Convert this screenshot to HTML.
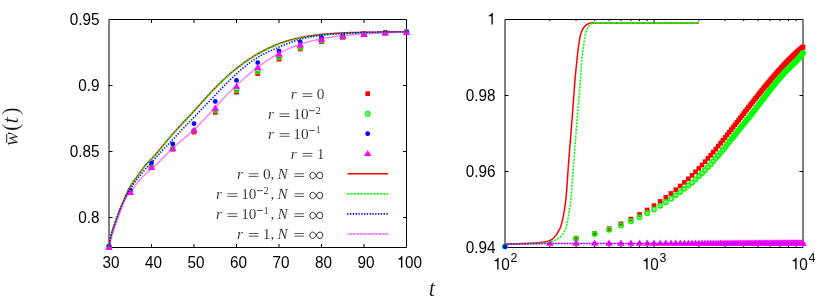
<!DOCTYPE html>
<html><head><meta charset="utf-8"><title>plot</title>
<style>html,body{margin:0;padding:0;background:#fff}svg{display:block;will-change:transform}</style>
</head><body>
<svg width="830" height="297" viewBox="0 0 830 297">
<g id="frames">
<path d="M109 19.5 H406.5 V247.5 H109 Z" fill="none" stroke="#000" stroke-width="1"/>
<path d="M505 19.5 H803 V247.5 H505 Z" fill="none" stroke="#000" stroke-width="1"/>
<path d="M151.5 247.5 v-3.5 M151.5 19.5 v3.5 M194 247.5 v-3.5 M194 19.5 v3.5 M236.5 247.5 v-3.5 M236.5 19.5 v3.5 M279 247.5 v-3.5 M279 19.5 v3.5 M321.5 247.5 v-3.5 M321.5 19.5 v3.5 M364 247.5 v-3.5 M364 19.5 v3.5 M109 85.5 h3.5 M406.5 85.5 h-3.5 M109 151.5 h3.5 M406.5 151.5 h-3.5 M109 217.5 h3.5 M406.5 217.5 h-3.5 M505 95.5 h3.5 M803 95.5 h-3.5 M505 171.5 h3.5 M803 171.5 h-3.5 M654 247.5 v-3.5 M654 19.5 v3.5 M549.85 247.5 v-1.6 M549.85 19.5 v1.6 M576.09 247.5 v-1.6 M576.09 19.5 v1.6 M594.71 247.5 v-1.6 M594.71 19.5 v1.6 M609.15 247.5 v-1.6 M609.15 19.5 v1.6 M620.94 247.5 v-1.6 M620.94 19.5 v1.6 M630.92 247.5 v-1.6 M630.92 19.5 v1.6 M639.56 247.5 v-1.6 M639.56 19.5 v1.6 M647.18 247.5 v-1.6 M647.18 19.5 v1.6 M698.85 247.5 v-1.6 M698.85 19.5 v1.6 M725.09 247.5 v-1.6 M725.09 19.5 v1.6 M743.71 247.5 v-1.6 M743.71 19.5 v1.6 M758.15 247.5 v-1.6 M758.15 19.5 v1.6 M769.94 247.5 v-1.6 M769.94 19.5 v1.6 M779.92 247.5 v-1.6 M779.92 19.5 v1.6 M788.56 247.5 v-1.6 M788.56 19.5 v1.6 M796.18 247.5 v-1.6 M796.18 19.5 v1.6" fill="none" stroke="#000" stroke-width="1"/>
</g>
<g font-family="Liberation Sans, sans-serif" font-size="15.3" fill="#000">
<text transform="translate(110.95 267.8) scale(1 1.08)" text-anchor="middle">30</text>
<text transform="translate(153.45 267.8) scale(1 1.08)" text-anchor="middle">40</text>
<text transform="translate(195.95 267.8) scale(1 1.08)" text-anchor="middle">50</text>
<text transform="translate(238.45 267.8) scale(1 1.08)" text-anchor="middle">60</text>
<text transform="translate(280.95 267.8) scale(1 1.08)" text-anchor="middle">70</text>
<text transform="translate(323.45 267.8) scale(1 1.08)" text-anchor="middle">80</text>
<text transform="translate(365.95 267.8) scale(1 1.08)" text-anchor="middle">90</text>
<path transform="translate(396.44 267.8) scale(0.01530 -0.01652)" d="M385 0 L297 0 L297 505 L125 505 L125 566 C212 570 292 598 324 709 L385 709 Z"/>
<text transform="translate(404.95 267.8) scale(1 1.08)">00</text>
<text transform="translate(99.5 24.55) scale(1 1.08)" text-anchor="end">0.95</text>
<text transform="translate(99.5 90.55) scale(1 1.08)" text-anchor="end">0.9</text>
<text transform="translate(99.5 156.55) scale(1 1.08)" text-anchor="end">0.85</text>
<text transform="translate(99.5 222.55) scale(1 1.08)" text-anchor="end">0.8</text>
<path transform="translate(486.89 24.55) scale(0.01530 -0.01652)" d="M385 0 L297 0 L297 505 L125 505 L125 566 C212 570 292 598 324 709 L385 709 Z"/>
<text transform="translate(495.4 100.55) scale(1 1.08)" text-anchor="end">0.98</text>
<text transform="translate(495.4 176.55) scale(1 1.08)" text-anchor="end">0.96</text>
<text transform="translate(495.4 252.55) scale(1 1.08)" text-anchor="end">0.94</text>
<path transform="translate(492.7 269.5) scale(0.01530 -0.01652)" d="M385 0 L297 0 L297 505 L125 505 L125 566 C212 570 292 598 324 709 L385 709 Z"/>
<text transform="translate(501.21 269.5) scale(1 1.08)">0<tspan font-size="12.4" dy="-6.7" dx="0.9">2</tspan></text>
<path transform="translate(641.7 269.5) scale(0.01530 -0.01652)" d="M385 0 L297 0 L297 505 L125 505 L125 566 C212 570 292 598 324 709 L385 709 Z"/>
<text transform="translate(650.21 269.5) scale(1 1.08)">0<tspan font-size="12.4" dy="-6.7" dx="0.9">3</tspan></text>
<path transform="translate(790.7 269.5) scale(0.01530 -0.01652)" d="M385 0 L297 0 L297 505 L125 505 L125 566 C212 570 292 598 324 709 L385 709 Z"/>
<text transform="translate(799.21 269.5) scale(1 1.08)">0<tspan font-size="12.4" dy="-6.7" dx="0.9">4</tspan></text>
</g>
<g font-family="Liberation Serif, serif" fill="#111" stroke="#fff" stroke-width="0.2">
<text x="428.7" y="295.5" font-size="23" font-style="italic">t</text>
<g transform="translate(18.3,145.2) rotate(-90)"><text x="-0.5" y="0" font-size="20.6" font-style="italic">w</text><text x="14.3" y="0" font-size="22.8">(</text><text x="21.8" y="0" font-size="23" font-style="italic">t</text><text x="30.1" y="0" font-size="22.8">)</text><path d="M2.4 -11.6 H11.6" stroke="#000" stroke-width="0.85" fill="none"/></g>
</g>
<g id="leftpts">
<rect x="106.65" y="244.25" width="4.7" height="4.7" fill="#ff0000"/>
<rect x="127.9" y="189.05" width="4.7" height="4.7" fill="#ff0000"/>
<rect x="149.15" y="164.85" width="4.7" height="4.7" fill="#ff0000"/>
<rect x="170.4" y="146.85" width="4.7" height="4.7" fill="#ff0000"/>
<rect x="191.65" y="129.75" width="4.7" height="4.7" fill="#ff0000"/>
<rect x="212.9" y="109.95" width="4.7" height="4.7" fill="#ff0000"/>
<rect x="234.15" y="89.85" width="4.7" height="4.7" fill="#ff0000"/>
<rect x="255.4" y="71.25" width="4.7" height="4.7" fill="#ff0000"/>
<rect x="276.65" y="56.85" width="4.7" height="4.7" fill="#ff0000"/>
<rect x="297.9" y="46.65" width="4.7" height="4.7" fill="#ff0000"/>
<rect x="319.15" y="39.25" width="4.7" height="4.7" fill="#ff0000"/>
<rect x="340.4" y="35.25" width="4.7" height="4.7" fill="#ff0000"/>
<rect x="361.65" y="31.95" width="4.7" height="4.7" fill="#ff0000"/>
<rect x="382.9" y="30.35" width="4.7" height="4.7" fill="#ff0000"/>
<rect x="404.15" y="29.65" width="4.7" height="4.7" fill="#ff0000"/>
<circle cx="109" cy="246.6" r="2.15" fill="none" stroke="#00ff00" stroke-width="1.6"/><circle cx="109" cy="246.6" r="0.65" fill="#00ff00"/>
<circle cx="130.25" cy="191.2" r="2.15" fill="none" stroke="#00ff00" stroke-width="1.6"/><circle cx="130.25" cy="191.2" r="0.65" fill="#00ff00"/>
<circle cx="151.5" cy="166.8" r="2.15" fill="none" stroke="#00ff00" stroke-width="1.6"/><circle cx="151.5" cy="166.8" r="0.65" fill="#00ff00"/>
<circle cx="172.75" cy="148.6" r="2.15" fill="none" stroke="#00ff00" stroke-width="1.6"/><circle cx="172.75" cy="148.6" r="0.65" fill="#00ff00"/>
<circle cx="194" cy="130.6" r="2.15" fill="none" stroke="#00ff00" stroke-width="1.6"/><circle cx="194" cy="130.6" r="0.65" fill="#00ff00"/>
<circle cx="215.25" cy="110.2" r="2.15" fill="none" stroke="#00ff00" stroke-width="1.6"/><circle cx="215.25" cy="110.2" r="0.65" fill="#00ff00"/>
<circle cx="236.5" cy="90.1" r="2.15" fill="none" stroke="#00ff00" stroke-width="1.6"/><circle cx="236.5" cy="90.1" r="0.65" fill="#00ff00"/>
<circle cx="257.75" cy="71.4" r="2.15" fill="none" stroke="#00ff00" stroke-width="1.6"/><circle cx="257.75" cy="71.4" r="0.65" fill="#00ff00"/>
<circle cx="279" cy="57.2" r="2.15" fill="none" stroke="#00ff00" stroke-width="1.6"/><circle cx="279" cy="57.2" r="0.65" fill="#00ff00"/>
<circle cx="300.25" cy="47.4" r="2.15" fill="none" stroke="#00ff00" stroke-width="1.6"/><circle cx="300.25" cy="47.4" r="0.65" fill="#00ff00"/>
<circle cx="321.5" cy="40.3" r="2.15" fill="none" stroke="#00ff00" stroke-width="1.6"/><circle cx="321.5" cy="40.3" r="0.65" fill="#00ff00"/>
<circle cx="342.75" cy="36.9" r="2.15" fill="none" stroke="#00ff00" stroke-width="1.6"/><circle cx="342.75" cy="36.9" r="0.65" fill="#00ff00"/>
<circle cx="364" cy="34.1" r="2.15" fill="none" stroke="#00ff00" stroke-width="1.6"/><circle cx="364" cy="34.1" r="0.65" fill="#00ff00"/>
<circle cx="385.25" cy="32.6" r="2.15" fill="none" stroke="#00ff00" stroke-width="1.6"/><circle cx="385.25" cy="32.6" r="0.65" fill="#00ff00"/>
<circle cx="406.5" cy="32" r="2.15" fill="none" stroke="#00ff00" stroke-width="1.6"/><circle cx="406.5" cy="32" r="0.65" fill="#00ff00"/>
<circle cx="109" cy="246.5" r="2.4" fill="#0000ff"/>
<circle cx="130.25" cy="190" r="2.4" fill="#0000ff"/>
<circle cx="151.5" cy="162.8" r="2.4" fill="#0000ff"/>
<circle cx="172.75" cy="144" r="2.4" fill="#0000ff"/>
<circle cx="194" cy="123.7" r="2.4" fill="#0000ff"/>
<circle cx="215.25" cy="101.4" r="2.4" fill="#0000ff"/>
<circle cx="236.5" cy="80.4" r="2.4" fill="#0000ff"/>
<circle cx="257.75" cy="62.6" r="2.4" fill="#0000ff"/>
<circle cx="279" cy="51" r="2.4" fill="#0000ff"/>
<circle cx="300.25" cy="42" r="2.4" fill="#0000ff"/>
<circle cx="321.5" cy="37.3" r="2.4" fill="#0000ff"/>
<circle cx="342.75" cy="34.9" r="2.4" fill="#0000ff"/>
<circle cx="364" cy="33.7" r="2.4" fill="#0000ff"/>
<circle cx="385.25" cy="32.4" r="2.4" fill="#0000ff"/>
<circle cx="406.5" cy="32" r="2.4" fill="#0000ff"/>
<path d="M109 244 L105.25 250.05 L112.75 250.05 Z" fill="#ff00ff"/>
<path d="M130.25 188.9 L126.5 194.95 L134 194.95 Z" fill="#ff00ff"/>
<path d="M151.5 164 L147.75 170.05 L155.25 170.05 Z" fill="#ff00ff"/>
<path d="M172.75 145.2 L169 151.25 L176.5 151.25 Z" fill="#ff00ff"/>
<path d="M194 126.8 L190.25 132.85 L197.75 132.85 Z" fill="#ff00ff"/>
<path d="M215.25 104.6 L211.5 110.65 L219 110.65 Z" fill="#ff00ff"/>
<path d="M236.5 82.7 L232.75 88.75 L240.25 88.75 Z" fill="#ff00ff"/>
<path d="M257.75 63.9 L254 69.95 L261.5 69.95 Z" fill="#ff00ff"/>
<path d="M279 50.6 L275.25 56.65 L282.75 56.65 Z" fill="#ff00ff"/>
<path d="M300.25 41.5 L296.5 47.55 L304 47.55 Z" fill="#ff00ff"/>
<path d="M321.5 35.9 L317.75 41.95 L325.25 41.95 Z" fill="#ff00ff"/>
<path d="M342.75 32.9 L339 38.95 L346.5 38.95 Z" fill="#ff00ff"/>
<path d="M364 30.9 L360.25 36.95 L367.75 36.95 Z" fill="#ff00ff"/>
<path d="M385.25 29.6 L381.5 35.65 L389 35.65 Z" fill="#ff00ff"/>
<path d="M406.5 29 L402.75 35.05 L410.25 35.05 Z" fill="#ff00ff"/>
</g>
<g id="leftlines" fill="none" stroke-linejoin="round">
<path d="M109 246.79 L109.43 242.98 L109.86 240.41 L110.29 238.31 L110.71 236.48 L111.14 234.81 L111.57 233.26 L112 231.79 L112.43 230.39 L112.86 229.04 L113.29 227.73 L113.71 226.45 L114.14 225.2 L114.57 223.96 L115 222.75 L115.43 221.54 L115.86 220.35 L116.29 219.17 L116.71 218 L117.14 216.84 L117.57 215.68 L118 214.53 L118.43 213.39 L118.86 212.25 L119.29 211.12 L119.71 210 L120.14 208.9 L120.57 207.82 L121 206.76 L121.43 205.72 L121.86 204.7 L122.29 203.7 L122.71 202.72 L123.14 201.74 L123.57 200.76 L124 199.79 L124.43 198.81 L124.86 197.83 L125.29 196.85 L125.71 195.85 L126.14 194.85 L126.57 193.84 L127 192.85 L127.43 191.87 L127.86 190.92 L128.29 190.01 L128.71 189.13 L129.14 188.31 L129.57 187.52 L130 186.77 L130.43 186.05 L130.86 185.36 L131.29 184.7 L131.71 184.06 L132.14 183.43 L132.57 182.82 L133 182.22 L133.43 181.62 L133.86 181.03 L134.29 180.45 L134.71 179.86 L135.14 179.28 L135.57 178.68 L136 178.09 L136.43 177.49 L136.86 176.88 L137.29 176.27 L137.71 175.66 L138.14 175.05 L138.57 174.45 L139 173.84 L139.43 173.23 L139.86 172.63 L140.29 172.02 L140.71 171.43 L141.14 170.83 L141.57 170.24 L142 169.66 L142.43 169.09 L142.86 168.52 L143.29 167.95 L143.71 167.4 L144.14 166.85 L144.57 166.31 L145 165.79 L145.43 165.27 L145.86 164.76 L146.29 164.26 L146.71 163.77 L147.14 163.29 L147.57 162.83 L148 162.37 L148.43 161.92 L148.86 161.47 L149.29 161.03 L149.71 160.59 L150.14 160.16 L150.57 159.72 L151 159.29 L151.43 158.85 L151.86 158.41 L152.29 157.96 L152.71 157.51 L153.14 157.06 L153.57 156.6 L154 156.13 L154.43 155.66 L154.86 155.18 L155.29 154.7 L155.71 154.21 L156.14 153.72 L156.57 153.23 L157 152.73 L157.43 152.23 L157.86 151.72 L158.29 151.22 L158.71 150.71 L159.14 150.2 L159.57 149.68 L160 149.17 L161.38 147.5 L162.75 145.83 L164.13 144.15 L165.51 142.48 L166.89 140.81 L168.26 139.15 L169.64 137.51 L171.02 135.89 L172.39 134.29 L173.77 132.73 L175.15 131.19 L176.53 129.67 L177.9 128.17 L179.28 126.68 L180.66 125.21 L182.03 123.75 L183.41 122.29 L184.79 120.84 L186.16 119.38 L187.54 117.93 L188.92 116.46 L190.3 115 L191.67 113.52 L193.05 112.03 L194.43 110.53 L195.8 109.02 L197.18 107.49 L198.56 105.96 L199.94 104.43 L201.31 102.89 L202.69 101.35 L204.07 99.82 L205.44 98.29 L206.82 96.77 L208.2 95.26 L209.58 93.77 L210.95 92.28 L212.33 90.82 L213.71 89.37 L215.08 87.94 L216.46 86.53 L217.84 85.14 L219.22 83.77 L220.59 82.43 L221.97 81.11 L223.35 79.8 L224.72 78.52 L226.1 77.26 L227.48 76.02 L228.85 74.8 L230.23 73.6 L231.61 72.42 L232.99 71.26 L234.36 70.12 L235.74 69 L237.12 67.9 L238.49 66.83 L239.87 65.77 L241.25 64.73 L242.63 63.71 L244 62.71 L245.38 61.73 L246.76 60.77 L248.13 59.83 L249.51 58.91 L250.89 58.01 L252.27 57.12 L253.64 56.26 L255.02 55.42 L256.4 54.59 L257.77 53.78 L259.15 53 L260.53 52.23 L261.91 51.48 L263.28 50.75 L264.66 50.03 L266.04 49.34 L267.41 48.66 L268.79 48.01 L270.17 47.37 L271.54 46.75 L272.92 46.14 L274.3 45.56 L275.68 44.99 L277.05 44.44 L278.43 43.91 L279.81 43.4 L281.18 42.91 L282.56 42.43 L283.94 41.97 L285.32 41.52 L286.69 41.09 L288.07 40.68 L289.45 40.28 L290.82 39.9 L292.2 39.53 L293.58 39.17 L294.96 38.83 L296.33 38.5 L297.71 38.19 L299.09 37.88 L300.46 37.59 L301.84 37.31 L303.22 37.04 L304.59 36.78 L305.97 36.53 L307.35 36.3 L308.73 36.07 L310.1 35.85 L311.48 35.64 L312.86 35.44 L314.23 35.25 L315.61 35.07 L316.99 34.9 L318.37 34.74 L319.74 34.58 L321.12 34.43 L322.5 34.29 L323.87 34.15 L325.25 34.02 L326.63 33.9 L328.01 33.78 L329.38 33.67 L330.76 33.57 L332.14 33.47 L333.51 33.38 L334.89 33.29 L336.27 33.21 L337.65 33.13 L339.02 33.06 L340.4 32.99 L341.78 32.92 L343.15 32.86 L344.53 32.81 L345.91 32.75 L347.28 32.7 L348.66 32.65 L350.04 32.61 L351.42 32.57 L352.79 32.53 L354.17 32.5 L355.55 32.46 L356.92 32.43 L358.3 32.4 L359.68 32.37 L361.06 32.35 L362.43 32.32 L363.81 32.3 L365.19 32.28 L366.56 32.26 L367.94 32.24 L369.32 32.22 L370.7 32.2 L372.07 32.18 L373.45 32.17 L374.83 32.15 L376.2 32.13 L377.58 32.11 L378.96 32.1 L380.34 32.08 L381.71 32.06 L383.09 32.04 L384.47 32.03 L385.84 32.01 L387.22 31.99 L388.6 31.96 L389.97 31.94 L391.35 31.92 L392.73 31.89 L394.11 31.87 L395.48 31.84 L396.86 31.81 L398.24 31.78 L399.61 31.74 L400.99 31.71 L402.37 31.67 L403.75 31.63 L405.12 31.59 L406.5 31.55" stroke="#ff0000" stroke-width="1.5"/>
<path d="M109 247.29 L109.43 243.48 L109.86 240.91 L110.29 238.81 L110.71 236.98 L111.14 235.31 L111.57 233.76 L112 232.29 L112.43 230.89 L112.86 229.54 L113.29 228.23 L113.71 226.95 L114.14 225.7 L114.57 224.46 L115 223.25 L115.43 222.04 L115.86 220.85 L116.29 219.67 L116.71 218.5 L117.14 217.34 L117.57 216.18 L118 215.03 L118.43 213.89 L118.86 212.75 L119.29 211.62 L119.71 210.5 L120.14 209.4 L120.57 208.32 L121 207.26 L121.43 206.22 L121.86 205.2 L122.29 204.2 L122.71 203.22 L123.14 202.24 L123.57 201.26 L124 200.29 L124.43 199.31 L124.86 198.33 L125.29 197.35 L125.71 196.35 L126.14 195.35 L126.57 194.34 L127 193.35 L127.43 192.37 L127.86 191.42 L128.29 190.51 L128.71 189.63 L129.14 188.81 L129.57 188.02 L130 187.27 L130.43 186.55 L130.86 185.86 L131.29 185.2 L131.71 184.56 L132.14 183.93 L132.57 183.32 L133 182.72 L133.43 182.12 L133.86 181.53 L134.29 180.95 L134.71 180.36 L135.14 179.78 L135.57 179.18 L136 178.59 L136.43 177.99 L136.86 177.38 L137.29 176.77 L137.71 176.16 L138.14 175.55 L138.57 174.95 L139 174.34 L139.43 173.73 L139.86 173.13 L140.29 172.52 L140.71 171.93 L141.14 171.33 L141.57 170.74 L142 170.16 L142.43 169.59 L142.86 169.02 L143.29 168.45 L143.71 167.9 L144.14 167.35 L144.57 166.81 L145 166.29 L145.43 165.77 L145.86 165.26 L146.29 164.76 L146.71 164.27 L147.14 163.79 L147.57 163.33 L148 162.87 L148.43 162.42 L148.86 161.97 L149.29 161.53 L149.71 161.09 L150.14 160.66 L150.57 160.22 L151 159.79 L151.43 159.35 L151.86 158.91 L152.29 158.46 L152.71 158.01 L153.14 157.56 L153.57 157.1 L154 156.63 L154.43 156.16 L154.86 155.68 L155.29 155.2 L155.71 154.71 L156.14 154.22 L156.57 153.73 L157 153.23 L157.43 152.73 L157.86 152.22 L158.29 151.72 L158.71 151.21 L159.14 150.7 L159.57 150.18 L160 149.67 L161.38 148 L162.75 146.33 L164.13 144.65 L165.51 142.98 L166.89 141.31 L168.26 139.65 L169.64 138.01 L171.02 136.39 L172.39 134.79 L173.77 133.23 L175.15 131.69 L176.53 130.17 L177.9 128.67 L179.28 127.18 L180.66 125.71 L182.03 124.25 L183.41 122.79 L184.79 121.34 L186.16 119.88 L187.54 118.43 L188.92 116.96 L190.3 115.5 L191.67 114.02 L193.05 112.53 L194.43 111.03 L195.8 109.52 L197.18 107.99 L198.56 106.46 L199.94 104.93 L201.31 103.39 L202.69 101.85 L204.07 100.32 L205.44 98.79 L206.82 97.27 L208.2 95.76 L209.58 94.27 L210.95 92.78 L212.33 91.32 L213.71 89.87 L215.08 88.44 L216.46 87.03 L217.84 85.64 L219.22 84.27 L220.59 82.93 L221.97 81.61 L223.35 80.3 L224.72 79.02 L226.1 77.76 L227.48 76.52 L228.85 75.3 L230.23 74.1 L231.61 72.92 L232.99 71.76 L234.36 70.62 L235.74 69.5 L237.12 68.4 L238.49 67.33 L239.87 66.27 L241.25 65.23 L242.63 64.21 L244 63.21 L245.38 62.23 L246.76 61.27 L248.13 60.33 L249.51 59.41 L250.89 58.51 L252.27 57.62 L253.64 56.76 L255.02 55.92 L256.4 55.09 L257.77 54.28 L259.15 53.5 L260.53 52.73 L261.91 51.98 L263.28 51.25 L264.66 50.53 L266.04 49.84 L267.41 49.16 L268.79 48.51 L270.17 47.87 L271.54 47.25 L272.92 46.64 L274.3 46.06 L275.68 45.49 L277.05 44.94 L278.43 44.41 L279.81 43.9 L281.18 43.41 L282.56 42.93 L283.94 42.47 L285.32 42.02 L286.69 41.59 L288.07 41.18 L289.45 40.78 L290.82 40.4 L292.2 40.03 L293.58 39.67 L294.96 39.33 L296.33 39 L297.71 38.69 L299.09 38.38 L300.46 38.09 L301.84 37.81 L303.22 37.54 L304.59 37.28 L305.97 37.03 L307.35 36.8 L308.73 36.57 L310.1 36.35 L311.48 36.14 L312.86 35.94 L314.23 35.75 L315.61 35.57 L316.99 35.4 L318.37 35.24 L319.74 35.08 L321.12 34.93 L322.5 34.79 L323.87 34.65 L325.25 34.52 L326.63 34.4 L328.01 34.28 L329.38 34.17 L330.76 34.07 L332.14 33.97 L333.51 33.88 L334.89 33.79 L336.27 33.71 L337.65 33.63 L339.02 33.56 L340.4 33.49 L341.78 33.42 L343.15 33.36 L344.53 33.31 L345.91 33.25 L347.28 33.2 L348.66 33.15 L350.04 33.11 L351.42 33.07 L352.79 33.03 L354.17 33 L355.55 32.96 L356.92 32.93 L358.3 32.9 L359.68 32.87 L361.06 32.85 L362.43 32.82 L363.81 32.8 L365.19 32.78 L366.56 32.76 L367.94 32.74 L369.32 32.72 L370.7 32.7 L372.07 32.68 L373.45 32.67 L374.83 32.65 L376.2 32.63 L377.58 32.61 L378.96 32.6 L380.34 32.58 L381.71 32.56 L383.09 32.54 L384.47 32.53 L385.84 32.51 L387.22 32.49 L388.6 32.46 L389.97 32.44 L391.35 32.42 L392.73 32.39 L394.11 32.37 L395.48 32.34 L396.86 32.31 L398.24 32.28 L399.61 32.24 L400.99 32.21 L402.37 32.17 L403.75 32.13 L405.12 32.09 L406.5 32.05" stroke="#00ff00" stroke-width="1.6" stroke-dasharray="2 1.3"/>
<path d="M109.2 246.8 L109.63 242.92 L110.05 240.35 L110.48 238.27 L110.91 236.46 L111.33 234.83 L111.76 233.3 L112.19 231.87 L112.62 230.49 L113.04 229.16 L113.47 227.86 L113.9 226.59 L114.32 225.34 L114.75 224.11 L115.18 222.88 L115.6 221.67 L116.03 220.47 L116.46 219.27 L116.88 218.09 L117.31 216.9 L117.74 215.72 L118.16 214.55 L118.59 213.37 L119.02 212.2 L119.45 211.05 L119.87 209.9 L120.3 208.78 L120.73 207.67 L121.15 206.6 L121.58 205.55 L122.01 204.53 L122.43 203.54 L122.86 202.58 L123.29 201.64 L123.71 200.73 L124.14 199.84 L124.57 198.97 L124.99 198.12 L125.42 197.28 L125.85 196.47 L126.28 195.67 L126.7 194.89 L127.13 194.12 L127.56 193.37 L127.98 192.63 L128.41 191.91 L128.84 191.2 L129.26 190.5 L129.69 189.81 L130.12 189.13 L130.54 188.46 L130.97 187.81 L131.4 187.16 L131.83 186.52 L132.25 185.89 L132.68 185.26 L133.11 184.65 L133.53 184.04 L133.96 183.44 L134.39 182.85 L134.81 182.26 L135.24 181.68 L135.67 181.11 L136.09 180.54 L136.52 179.98 L136.95 179.42 L137.37 178.87 L137.8 178.32 L138.23 177.78 L138.66 177.24 L139.08 176.71 L139.51 176.18 L139.94 175.65 L140.36 175.13 L140.79 174.61 L141.22 174.1 L141.64 173.58 L142.07 173.07 L142.5 172.57 L142.92 172.06 L143.35 171.56 L143.78 171.06 L144.21 170.57 L144.63 170.07 L145.06 169.58 L145.49 169.09 L145.91 168.6 L146.34 168.12 L146.77 167.63 L147.19 167.15 L147.62 166.67 L148.05 166.19 L148.47 165.71 L148.9 165.23 L149.33 164.76 L149.75 164.28 L150.18 163.81 L150.61 163.33 L151.04 162.86 L151.46 162.39 L151.89 161.92 L152.32 161.45 L152.74 160.98 L153.17 160.51 L153.6 160.04 L154.02 159.58 L154.45 159.11 L154.88 158.64 L155.3 158.18 L155.73 157.71 L156.16 157.25 L156.58 156.78 L157.01 156.32 L157.44 155.86 L157.87 155.39 L158.29 154.93 L158.72 154.47 L159.15 154.01 L159.57 153.55 L160 153.09 L161.38 151.61 L162.75 150.13 L164.13 148.66 L165.51 147.19 L166.89 145.72 L168.26 144.26 L169.64 142.8 L171.02 141.34 L172.39 139.88 L173.77 138.43 L175.15 136.98 L176.53 135.53 L177.9 134.08 L179.28 132.64 L180.66 131.19 L182.03 129.75 L183.41 128.31 L184.79 126.87 L186.16 125.43 L187.54 123.99 L188.92 122.55 L190.3 121.12 L191.67 119.68 L193.05 118.24 L194.43 116.81 L195.8 115.37 L197.18 113.94 L198.56 112.5 L199.94 111.07 L201.31 109.63 L202.69 108.2 L204.07 106.76 L205.44 105.33 L206.82 103.89 L208.2 102.46 L209.58 101.02 L210.95 99.59 L212.33 98.15 L213.71 96.71 L215.08 95.28 L216.46 93.84 L217.84 92.4 L219.22 90.97 L220.59 89.54 L221.97 88.11 L223.35 86.7 L224.72 85.29 L226.1 83.9 L227.48 82.51 L228.85 81.14 L230.23 79.78 L231.61 78.44 L232.99 77.12 L234.36 75.81 L235.74 74.53 L237.12 73.26 L238.49 72.02 L239.87 70.8 L241.25 69.6 L242.63 68.43 L244 67.28 L245.38 66.16 L246.76 65.06 L248.13 63.99 L249.51 62.95 L250.89 61.95 L252.27 60.97 L253.64 60.02 L255.02 59.1 L256.4 58.22 L257.77 57.37 L259.15 56.55 L260.53 55.77 L261.91 55.01 L263.28 54.28 L264.66 53.57 L266.04 52.89 L267.41 52.22 L268.79 51.57 L270.17 50.94 L271.54 50.32 L272.92 49.72 L274.3 49.12 L275.68 48.53 L277.05 47.95 L278.43 47.37 L279.81 46.79 L281.18 46.22 L282.56 45.65 L283.94 45.09 L285.32 44.53 L286.69 43.98 L288.07 43.44 L289.45 42.92 L290.82 42.4 L292.2 41.9 L293.58 41.41 L294.96 40.93 L296.33 40.48 L297.71 40.04 L299.09 39.62 L300.46 39.22 L301.84 38.84 L303.22 38.48 L304.59 38.14 L305.97 37.81 L307.35 37.51 L308.73 37.22 L310.1 36.95 L311.48 36.69 L312.86 36.45 L314.23 36.22 L315.61 36 L316.99 35.79 L318.37 35.6 L319.74 35.42 L321.12 35.25 L322.5 35.09 L323.87 34.93 L325.25 34.79 L326.63 34.65 L328.01 34.53 L329.38 34.4 L330.76 34.29 L332.14 34.18 L333.51 34.08 L334.89 33.98 L336.27 33.89 L337.65 33.8 L339.02 33.71 L340.4 33.63 L341.78 33.55 L343.15 33.47 L344.53 33.4 L345.91 33.32 L347.28 33.25 L348.66 33.18 L350.04 33.12 L351.42 33.05 L352.79 32.99 L354.17 32.93 L355.55 32.87 L356.92 32.81 L358.3 32.75 L359.68 32.7 L361.06 32.65 L362.43 32.6 L363.81 32.55 L365.19 32.5 L366.56 32.45 L367.94 32.41 L369.32 32.37 L370.7 32.33 L372.07 32.29 L373.45 32.25 L374.83 32.21 L376.2 32.18 L377.58 32.14 L378.96 32.11 L380.34 32.08 L381.71 32.05 L383.09 32.02 L384.47 31.99 L385.84 31.96 L387.22 31.94 L388.6 31.92 L389.97 31.89 L391.35 31.87 L392.73 31.85 L394.11 31.83 L395.48 31.81 L396.86 31.8 L398.24 31.78 L399.61 31.77 L400.99 31.75 L402.37 31.74 L403.75 31.73 L405.12 31.72 L406.5 31.71" stroke="#0000ff" stroke-width="1.6" stroke-dasharray="1.3 1.5"/>
<path d="M109 247 L109.43 245.85 L109.86 244.3 L110.29 242.67 L110.71 241.01 L111.14 239.37 L111.57 237.75 L112 236.16 L112.43 234.61 L112.86 233.09 L113.29 231.62 L113.71 230.19 L114.14 228.8 L114.57 227.45 L115 226.14 L115.43 224.88 L115.86 223.65 L116.29 222.45 L116.71 221.27 L117.14 220.11 L117.57 218.95 L118 217.81 L118.43 216.66 L118.86 215.52 L119.29 214.37 L119.71 213.22 L120.14 212.06 L120.57 210.91 L121 209.76 L121.43 208.63 L121.86 207.51 L122.29 206.43 L122.71 205.37 L123.14 204.33 L123.57 203.33 L124 202.37 L124.43 201.43 L124.86 200.53 L125.29 199.67 L125.71 198.84 L126.14 198.05 L126.57 197.3 L127 196.59 L127.43 195.91 L127.86 195.27 L128.29 194.67 L128.71 194.08 L129.14 193.53 L129.57 192.98 L130 192.45 L130.43 191.93 L130.86 191.41 L131.29 190.89 L131.71 190.37 L132.14 189.84 L132.57 189.3 L133 188.75 L133.43 188.19 L133.86 187.62 L134.29 187.04 L134.71 186.46 L135.14 185.88 L135.57 185.3 L136 184.72 L136.43 184.14 L136.86 183.57 L137.29 183.01 L137.71 182.45 L138.14 181.9 L138.57 181.37 L139 180.85 L139.43 180.34 L139.86 179.84 L140.29 179.36 L140.71 178.89 L141.14 178.43 L141.57 177.97 L142 177.53 L142.43 177.1 L142.86 176.67 L143.29 176.25 L143.71 175.84 L144.14 175.43 L144.57 175.03 L145 174.63 L145.43 174.24 L145.86 173.85 L146.29 173.47 L146.71 173.09 L147.14 172.71 L147.57 172.33 L148 171.96 L148.43 171.59 L148.86 171.21 L149.29 170.84 L149.71 170.47 L150.14 170.1 L150.57 169.73 L151 169.36 L151.43 168.99 L151.86 168.61 L152.29 168.24 L152.71 167.86 L153.14 167.48 L153.57 167.1 L154 166.72 L154.43 166.33 L154.86 165.94 L155.29 165.55 L155.71 165.15 L156.14 164.75 L156.57 164.34 L157 163.93 L157.43 163.52 L157.86 163.1 L158.29 162.68 L158.71 162.25 L159.14 161.82 L159.57 161.39 L160 160.95 L161.38 159.54 L162.75 158.11 L164.13 156.67 L165.51 155.24 L166.89 153.82 L168.26 152.42 L169.64 151.04 L171.02 149.69 L172.39 148.38 L173.77 147.11 L175.15 145.88 L176.53 144.68 L177.9 143.51 L179.28 142.35 L180.66 141.21 L182.03 140.07 L183.41 138.93 L184.79 137.78 L186.16 136.63 L187.54 135.46 L188.92 134.28 L190.3 133.07 L191.67 131.84 L193.05 130.57 L194.43 129.27 L195.8 127.94 L197.18 126.57 L198.56 125.18 L199.94 123.76 L201.31 122.32 L202.69 120.87 L204.07 119.4 L205.44 117.91 L206.82 116.42 L208.2 114.92 L209.58 113.42 L210.95 111.92 L212.33 110.41 L213.71 108.91 L215.08 107.42 L216.46 105.93 L217.84 104.45 L219.22 102.98 L220.59 101.51 L221.97 100.06 L223.35 98.62 L224.72 97.19 L226.1 95.77 L227.48 94.36 L228.85 92.96 L230.23 91.58 L231.61 90.21 L232.99 88.85 L234.36 87.51 L235.74 86.18 L237.12 84.86 L238.49 83.56 L239.87 82.28 L241.25 81.01 L242.63 79.76 L244 78.52 L245.38 77.3 L246.76 76.1 L248.13 74.91 L249.51 73.75 L250.89 72.6 L252.27 71.47 L253.64 70.35 L255.02 69.26 L256.4 68.18 L257.77 67.12 L259.15 66.08 L260.53 65.06 L261.91 64.06 L263.28 63.08 L264.66 62.12 L266.04 61.18 L267.41 60.26 L268.79 59.37 L270.17 58.49 L271.54 57.63 L272.92 56.79 L274.3 55.98 L275.68 55.18 L277.05 54.41 L278.43 53.65 L279.81 52.92 L281.18 52.22 L282.56 51.53 L283.94 50.86 L285.32 50.21 L286.69 49.58 L288.07 48.97 L289.45 48.38 L290.82 47.81 L292.2 47.25 L293.58 46.71 L294.96 46.19 L296.33 45.68 L297.71 45.19 L299.09 44.72 L300.46 44.26 L301.84 43.81 L303.22 43.38 L304.59 42.96 L305.97 42.56 L307.35 42.17 L308.73 41.79 L310.1 41.43 L311.48 41.07 L312.86 40.73 L314.23 40.4 L315.61 40.09 L316.99 39.78 L318.37 39.48 L319.74 39.19 L321.12 38.92 L322.5 38.65 L323.87 38.39 L325.25 38.15 L326.63 37.91 L328.01 37.67 L329.38 37.45 L330.76 37.24 L332.14 37.03 L333.51 36.83 L334.89 36.64 L336.27 36.46 L337.65 36.28 L339.02 36.11 L340.4 35.94 L341.78 35.78 L343.15 35.63 L344.53 35.48 L345.91 35.34 L347.28 35.21 L348.66 35.07 L350.04 34.95 L351.42 34.83 L352.79 34.71 L354.17 34.6 L355.55 34.49 L356.92 34.38 L358.3 34.28 L359.68 34.19 L361.06 34.09 L362.43 34 L363.81 33.91 L365.19 33.83 L366.56 33.75 L367.94 33.67 L369.32 33.59 L370.7 33.52 L372.07 33.44 L373.45 33.37 L374.83 33.3 L376.2 33.24 L377.58 33.17 L378.96 33.1 L380.34 33.04 L381.71 32.98 L383.09 32.92 L384.47 32.86 L385.84 32.8 L387.22 32.74 L388.6 32.68 L389.97 32.62 L391.35 32.56 L392.73 32.5 L394.11 32.44 L395.48 32.38 L396.86 32.32 L398.24 32.26 L399.61 32.2 L400.99 32.14 L402.37 32.07 L403.75 32.01 L405.12 31.95 L406.5 31.88" stroke="#ff00ff" stroke-width="1.45" stroke-opacity="0.5"/>
</g>
<g id="legend">
<rect x="365.35" y="91.35" width="4.7" height="4.7" fill="#ff0000"/>
<circle cx="367.7" cy="113.8" r="2.15" fill="none" stroke="#00ff00" stroke-width="1.6"/><circle cx="367.7" cy="113.8" r="0.65" fill="#00ff00"/>
<circle cx="367.7" cy="133.7" r="2.4" fill="#0000ff"/>
<path d="M367.7 149.9 L363.95 155.95 L371.45 155.95 Z" fill="#ff00ff"/>
<g fill="none">
<path d="M347.4 173.8 H388" stroke="#ff0000" stroke-width="1.5"/>
<path d="M347.2 193.9 H388.1" stroke="#00ff00" stroke-width="1.6" stroke-dasharray="2 1.3"/>
<path d="M347.2 213.9 H388.1" stroke="#0000ff" stroke-width="1.6" stroke-dasharray="1.3 1.5"/>
<path d="M347.2 233.9 H388.1" stroke="#ff00ff" stroke-width="1.5" stroke-opacity="0.3"/><path d="M347.2 233.9 H388.1" stroke="#ff00ff" stroke-width="1.5" stroke-dasharray="2.3 1.4" stroke-dashoffset="1.6" stroke-opacity="0.5"/>
</g>
<g font-family="Liberation Serif, serif" fill="#1a1a1a" stroke="#fff" stroke-width="0.12">
<text x="290.87" y="98.9" font-size="15.3" font-style="italic">r</text><path d="M302.6 93.75 H312.4 M302.6 96.4 H312.4" stroke="#1a1a1a" stroke-width="0.72" fill="none"/><text x="316.82" y="98.9" font-size="15.3">0</text>
<text x="268.07" y="119" font-size="15.3" font-style="italic">r</text><path d="M279.5 113.85 H289.5 M279.5 116.5 H289.5" stroke="#1a1a1a" stroke-width="0.72" fill="none"/><text x="293.25" y="119" font-size="15.3">10</text><path d="M309 110.7 H314.8" stroke="#1a1a1a" stroke-width="0.75" fill="none"/><text x="315.53" y="113.6" font-size="10.6">2</text>
<text x="268.07" y="138.8" font-size="15.3" font-style="italic">r</text><path d="M279.5 133.65 H289.5 M279.5 136.3 H289.5" stroke="#1a1a1a" stroke-width="0.72" fill="none"/><text x="293.25" y="138.8" font-size="15.3">10</text><path d="M309 130.5 H314.8" stroke="#1a1a1a" stroke-width="0.75" fill="none"/><text x="315.57" y="133.4" font-size="10.6">1</text>
<text x="290.87" y="158.6" font-size="15.3" font-style="italic">r</text><path d="M302.6 153.45 H312.4 M302.6 156.1 H312.4" stroke="#1a1a1a" stroke-width="0.72" fill="none"/><text x="316.65" y="158.6" font-size="15.3">1</text>
<text x="236.97" y="178.9" font-size="15.3" font-style="italic">r</text><path d="M248.7 173.75 H258.5 M248.7 176.4 H258.5" stroke="#1a1a1a" stroke-width="0.72" fill="none"/><text x="262.92" y="178.9" font-size="15.3">0</text><text x="270.62" y="178.9" font-size="15.3">,</text><text x="277.61" y="178.9" font-size="15.3" font-style="italic">N</text><path d="M294.4 173.75 H304.1 M294.4 176.4 H304.1" stroke="#1a1a1a" stroke-width="0.72" fill="none"/><path d="M316.3 175.5 C318.1 171.2 322.65 171.2 322.65 175.5 C322.65 179.8 318.1 179.8 316.3 175.5 C314.5 171.2 309.95 171.2 309.95 175.5 C309.95 179.8 314.5 179.8 316.3 175.5 Z" stroke="#1a1a1a" stroke-width="0.95" fill="none"/>
<text x="215.97" y="198.9" font-size="15.3" font-style="italic">r</text><path d="M227.4 193.75 H237.4 M227.4 196.4 H237.4" stroke="#1a1a1a" stroke-width="0.72" fill="none"/><text x="241.15" y="198.9" font-size="15.3">10</text><path d="M256.9 190.6 H262.7" stroke="#1a1a1a" stroke-width="0.75" fill="none"/><text x="263.43" y="193.5" font-size="10.6">2</text><text x="270.62" y="198.9" font-size="15.3">,</text><text x="277.61" y="198.9" font-size="15.3" font-style="italic">N</text><path d="M294.4 193.75 H304.1 M294.4 196.4 H304.1" stroke="#1a1a1a" stroke-width="0.72" fill="none"/><path d="M316.3 195.5 C318.1 191.2 322.65 191.2 322.65 195.5 C322.65 199.8 318.1 199.8 316.3 195.5 C314.5 191.2 309.95 191.2 309.95 195.5 C309.95 199.8 314.5 199.8 316.3 195.5 Z" stroke="#1a1a1a" stroke-width="0.95" fill="none"/>
<text x="215.97" y="218.9" font-size="15.3" font-style="italic">r</text><path d="M227.4 213.75 H237.4 M227.4 216.4 H237.4" stroke="#1a1a1a" stroke-width="0.72" fill="none"/><text x="241.15" y="218.9" font-size="15.3">10</text><path d="M256.9 210.6 H262.7" stroke="#1a1a1a" stroke-width="0.75" fill="none"/><text x="263.47" y="213.5" font-size="10.6">1</text><text x="270.62" y="218.9" font-size="15.3">,</text><text x="277.61" y="218.9" font-size="15.3" font-style="italic">N</text><path d="M294.4 213.75 H304.1 M294.4 216.4 H304.1" stroke="#1a1a1a" stroke-width="0.72" fill="none"/><path d="M316.3 215.5 C318.1 211.2 322.65 211.2 322.65 215.5 C322.65 219.8 318.1 219.8 316.3 215.5 C314.5 211.2 309.95 211.2 309.95 215.5 C309.95 219.8 314.5 219.8 316.3 215.5 Z" stroke="#1a1a1a" stroke-width="0.95" fill="none"/>
<text x="236.97" y="238.7" font-size="15.3" font-style="italic">r</text><path d="M248.7 233.55 H258.5 M248.7 236.2 H258.5" stroke="#1a1a1a" stroke-width="0.72" fill="none"/><text x="262.75" y="238.7" font-size="15.3">1</text><text x="270.62" y="238.7" font-size="15.3">,</text><text x="277.61" y="238.7" font-size="15.3" font-style="italic">N</text><path d="M294.4 233.55 H304.1 M294.4 236.2 H304.1" stroke="#1a1a1a" stroke-width="0.72" fill="none"/><path d="M316.3 235.3 C318.1 231 322.65 231 322.65 235.3 C322.65 239.6 318.1 239.6 316.3 235.3 C314.5 231 309.95 231 309.95 235.3 C309.95 239.6 314.5 239.6 316.3 235.3 Z" stroke="#1a1a1a" stroke-width="0.95" fill="none"/>
</g></g>
<g id="rightpts">
<rect x="573.74" y="235.98" width="4.7" height="4.7" fill="#ff0000"/>
<rect x="592.36" y="231.21" width="4.7" height="4.7" fill="#ff0000"/>
<rect x="606.8" y="226.35" width="4.7" height="4.7" fill="#ff0000"/>
<rect x="618.59" y="221.52" width="4.7" height="4.7" fill="#ff0000"/>
<rect x="628.57" y="216.78" width="4.7" height="4.7" fill="#ff0000"/>
<rect x="637.21" y="212.14" width="4.7" height="4.7" fill="#ff0000"/>
<rect x="644.83" y="207.64" width="4.7" height="4.7" fill="#ff0000"/>
<rect x="651.65" y="203.3" width="4.7" height="4.7" fill="#ff0000"/>
<rect x="657.82" y="199.1" width="4.7" height="4.7" fill="#ff0000"/>
<rect x="663.45" y="195.04" width="4.7" height="4.7" fill="#ff0000"/>
<rect x="668.63" y="191.13" width="4.7" height="4.7" fill="#ff0000"/>
<rect x="673.42" y="187.34" width="4.7" height="4.7" fill="#ff0000"/>
<rect x="677.89" y="183.65" width="4.7" height="4.7" fill="#ff0000"/>
<rect x="682.06" y="180.04" width="4.7" height="4.7" fill="#ff0000"/>
<rect x="685.99" y="176.49" width="4.7" height="4.7" fill="#ff0000"/>
<rect x="689.69" y="172.98" width="4.7" height="4.7" fill="#ff0000"/>
<rect x="693.18" y="169.51" width="4.7" height="4.7" fill="#ff0000"/>
<rect x="696.5" y="166.08" width="4.7" height="4.7" fill="#ff0000"/>
<rect x="699.66" y="162.69" width="4.7" height="4.7" fill="#ff0000"/>
<rect x="702.67" y="159.36" width="4.7" height="4.7" fill="#ff0000"/>
<rect x="705.55" y="156.09" width="4.7" height="4.7" fill="#ff0000"/>
<rect x="708.3" y="152.88" width="4.7" height="4.7" fill="#ff0000"/>
<rect x="710.94" y="149.75" width="4.7" height="4.7" fill="#ff0000"/>
<rect x="713.48" y="146.68" width="4.7" height="4.7" fill="#ff0000"/>
<rect x="715.92" y="143.7" width="4.7" height="4.7" fill="#ff0000"/>
<rect x="718.28" y="140.78" width="4.7" height="4.7" fill="#ff0000"/>
<rect x="720.55" y="137.94" width="4.7" height="4.7" fill="#ff0000"/>
<rect x="722.74" y="135.17" width="4.7" height="4.7" fill="#ff0000"/>
<rect x="724.86" y="132.47" width="4.7" height="4.7" fill="#ff0000"/>
<rect x="726.92" y="129.84" width="4.7" height="4.7" fill="#ff0000"/>
<rect x="728.91" y="127.28" width="4.7" height="4.7" fill="#ff0000"/>
<rect x="730.84" y="124.79" width="4.7" height="4.7" fill="#ff0000"/>
<rect x="732.72" y="122.37" width="4.7" height="4.7" fill="#ff0000"/>
<rect x="734.54" y="120" width="4.7" height="4.7" fill="#ff0000"/>
<rect x="736.31" y="117.71" width="4.7" height="4.7" fill="#ff0000"/>
<rect x="738.04" y="115.47" width="4.7" height="4.7" fill="#ff0000"/>
<rect x="739.72" y="113.29" width="4.7" height="4.7" fill="#ff0000"/>
<rect x="741.36" y="111.17" width="4.7" height="4.7" fill="#ff0000"/>
<rect x="742.95" y="109.1" width="4.7" height="4.7" fill="#ff0000"/>
<rect x="744.51" y="107.09" width="4.7" height="4.7" fill="#ff0000"/>
<rect x="746.04" y="105.13" width="4.7" height="4.7" fill="#ff0000"/>
<rect x="747.52" y="103.22" width="4.7" height="4.7" fill="#ff0000"/>
<rect x="748.98" y="101.36" width="4.7" height="4.7" fill="#ff0000"/>
<rect x="750.4" y="99.54" width="4.7" height="4.7" fill="#ff0000"/>
<rect x="751.79" y="97.78" width="4.7" height="4.7" fill="#ff0000"/>
<rect x="753.15" y="96.05" width="4.7" height="4.7" fill="#ff0000"/>
<rect x="754.49" y="94.37" width="4.7" height="4.7" fill="#ff0000"/>
<rect x="755.8" y="92.73" width="4.7" height="4.7" fill="#ff0000"/>
<rect x="757.08" y="91.13" width="4.7" height="4.7" fill="#ff0000"/>
<rect x="758.33" y="89.57" width="4.7" height="4.7" fill="#ff0000"/>
<rect x="759.57" y="88.04" width="4.7" height="4.7" fill="#ff0000"/>
<rect x="760.78" y="86.56" width="4.7" height="4.7" fill="#ff0000"/>
<rect x="761.96" y="85.1" width="4.7" height="4.7" fill="#ff0000"/>
<rect x="763.13" y="83.69" width="4.7" height="4.7" fill="#ff0000"/>
<rect x="764.28" y="82.3" width="4.7" height="4.7" fill="#ff0000"/>
<rect x="765.4" y="80.95" width="4.7" height="4.7" fill="#ff0000"/>
<rect x="766.51" y="79.63" width="4.7" height="4.7" fill="#ff0000"/>
<rect x="767.59" y="78.34" width="4.7" height="4.7" fill="#ff0000"/>
<rect x="768.66" y="77.08" width="4.7" height="4.7" fill="#ff0000"/>
<rect x="769.72" y="75.85" width="4.7" height="4.7" fill="#ff0000"/>
<rect x="770.75" y="74.65" width="4.7" height="4.7" fill="#ff0000"/>
<rect x="771.77" y="73.47" width="4.7" height="4.7" fill="#ff0000"/>
<rect x="772.77" y="72.32" width="4.7" height="4.7" fill="#ff0000"/>
<rect x="773.76" y="71.2" width="4.7" height="4.7" fill="#ff0000"/>
<rect x="774.74" y="70.1" width="4.7" height="4.7" fill="#ff0000"/>
<rect x="775.69" y="69.03" width="4.7" height="4.7" fill="#ff0000"/>
<rect x="776.64" y="67.98" width="4.7" height="4.7" fill="#ff0000"/>
<rect x="777.57" y="66.95" width="4.7" height="4.7" fill="#ff0000"/>
<rect x="778.49" y="65.95" width="4.7" height="4.7" fill="#ff0000"/>
<rect x="779.39" y="64.97" width="4.7" height="4.7" fill="#ff0000"/>
<rect x="780.29" y="64.01" width="4.7" height="4.7" fill="#ff0000"/>
<rect x="781.17" y="63.07" width="4.7" height="4.7" fill="#ff0000"/>
<rect x="782.03" y="62.15" width="4.7" height="4.7" fill="#ff0000"/>
<rect x="782.89" y="61.25" width="4.7" height="4.7" fill="#ff0000"/>
<rect x="783.74" y="60.37" width="4.7" height="4.7" fill="#ff0000"/>
<rect x="784.57" y="59.51" width="4.7" height="4.7" fill="#ff0000"/>
<rect x="785.4" y="58.67" width="4.7" height="4.7" fill="#ff0000"/>
<rect x="786.21" y="57.85" width="4.7" height="4.7" fill="#ff0000"/>
<rect x="787.01" y="57.04" width="4.7" height="4.7" fill="#ff0000"/>
<rect x="787.81" y="56.26" width="4.7" height="4.7" fill="#ff0000"/>
<rect x="788.59" y="55.49" width="4.7" height="4.7" fill="#ff0000"/>
<rect x="789.37" y="54.73" width="4.7" height="4.7" fill="#ff0000"/>
<rect x="790.13" y="53.99" width="4.7" height="4.7" fill="#ff0000"/>
<rect x="790.89" y="53.27" width="4.7" height="4.7" fill="#ff0000"/>
<rect x="791.64" y="52.56" width="4.7" height="4.7" fill="#ff0000"/>
<rect x="792.38" y="51.87" width="4.7" height="4.7" fill="#ff0000"/>
<rect x="793.11" y="51.19" width="4.7" height="4.7" fill="#ff0000"/>
<rect x="793.83" y="50.53" width="4.7" height="4.7" fill="#ff0000"/>
<rect x="794.55" y="49.88" width="4.7" height="4.7" fill="#ff0000"/>
<rect x="795.25" y="49.25" width="4.7" height="4.7" fill="#ff0000"/>
<rect x="795.95" y="48.63" width="4.7" height="4.7" fill="#ff0000"/>
<rect x="796.65" y="48.02" width="4.7" height="4.7" fill="#ff0000"/>
<rect x="797.33" y="47.43" width="4.7" height="4.7" fill="#ff0000"/>
<rect x="798.01" y="46.84" width="4.7" height="4.7" fill="#ff0000"/>
<rect x="798.68" y="46.27" width="4.7" height="4.7" fill="#ff0000"/>
<rect x="799.34" y="45.72" width="4.7" height="4.7" fill="#ff0000"/>
<rect x="800" y="45.17" width="4.7" height="4.7" fill="#ff0000"/>
<rect x="800.65" y="44.64" width="4.7" height="4.7" fill="#ff0000"/>
<circle cx="505" cy="246.47" r="2.15" fill="none" stroke="#00ff00" stroke-width="1.6"/><circle cx="505" cy="246.47" r="0.65" fill="#00ff00"/>
<circle cx="576.09" cy="238.44" r="2.15" fill="none" stroke="#00ff00" stroke-width="1.6"/><circle cx="576.09" cy="238.44" r="0.65" fill="#00ff00"/>
<circle cx="594.71" cy="234.05" r="2.15" fill="none" stroke="#00ff00" stroke-width="1.6"/><circle cx="594.71" cy="234.05" r="0.65" fill="#00ff00"/>
<circle cx="609.15" cy="229.69" r="2.15" fill="none" stroke="#00ff00" stroke-width="1.6"/><circle cx="609.15" cy="229.69" r="0.65" fill="#00ff00"/>
<circle cx="620.94" cy="225.41" r="2.15" fill="none" stroke="#00ff00" stroke-width="1.6"/><circle cx="620.94" cy="225.41" r="0.65" fill="#00ff00"/>
<circle cx="630.92" cy="221.24" r="2.15" fill="none" stroke="#00ff00" stroke-width="1.6"/><circle cx="630.92" cy="221.24" r="0.65" fill="#00ff00"/>
<circle cx="639.56" cy="217.19" r="2.15" fill="none" stroke="#00ff00" stroke-width="1.6"/><circle cx="639.56" cy="217.19" r="0.65" fill="#00ff00"/>
<circle cx="647.18" cy="213.27" r="2.15" fill="none" stroke="#00ff00" stroke-width="1.6"/><circle cx="647.18" cy="213.27" r="0.65" fill="#00ff00"/>
<circle cx="654" cy="209.46" r="2.15" fill="none" stroke="#00ff00" stroke-width="1.6"/><circle cx="654" cy="209.46" r="0.65" fill="#00ff00"/>
<circle cx="660.17" cy="205.76" r="2.15" fill="none" stroke="#00ff00" stroke-width="1.6"/><circle cx="660.17" cy="205.76" r="0.65" fill="#00ff00"/>
<circle cx="665.8" cy="202.17" r="2.15" fill="none" stroke="#00ff00" stroke-width="1.6"/><circle cx="665.8" cy="202.17" r="0.65" fill="#00ff00"/>
<circle cx="670.98" cy="198.67" r="2.15" fill="none" stroke="#00ff00" stroke-width="1.6"/><circle cx="670.98" cy="198.67" r="0.65" fill="#00ff00"/>
<circle cx="675.77" cy="195.27" r="2.15" fill="none" stroke="#00ff00" stroke-width="1.6"/><circle cx="675.77" cy="195.27" r="0.65" fill="#00ff00"/>
<circle cx="680.24" cy="191.96" r="2.15" fill="none" stroke="#00ff00" stroke-width="1.6"/><circle cx="680.24" cy="191.96" r="0.65" fill="#00ff00"/>
<circle cx="684.41" cy="188.73" r="2.15" fill="none" stroke="#00ff00" stroke-width="1.6"/><circle cx="684.41" cy="188.73" r="0.65" fill="#00ff00"/>
<circle cx="688.34" cy="185.55" r="2.15" fill="none" stroke="#00ff00" stroke-width="1.6"/><circle cx="688.34" cy="185.55" r="0.65" fill="#00ff00"/>
<circle cx="692.04" cy="182.43" r="2.15" fill="none" stroke="#00ff00" stroke-width="1.6"/><circle cx="692.04" cy="182.43" r="0.65" fill="#00ff00"/>
<circle cx="695.53" cy="179.33" r="2.15" fill="none" stroke="#00ff00" stroke-width="1.6"/><circle cx="695.53" cy="179.33" r="0.65" fill="#00ff00"/>
<circle cx="698.85" cy="176.27" r="2.15" fill="none" stroke="#00ff00" stroke-width="1.6"/><circle cx="698.85" cy="176.27" r="0.65" fill="#00ff00"/>
<circle cx="702.01" cy="173.22" r="2.15" fill="none" stroke="#00ff00" stroke-width="1.6"/><circle cx="702.01" cy="173.22" r="0.65" fill="#00ff00"/>
<circle cx="705.02" cy="170.19" r="2.15" fill="none" stroke="#00ff00" stroke-width="1.6"/><circle cx="705.02" cy="170.19" r="0.65" fill="#00ff00"/>
<circle cx="707.9" cy="167.17" r="2.15" fill="none" stroke="#00ff00" stroke-width="1.6"/><circle cx="707.9" cy="167.17" r="0.65" fill="#00ff00"/>
<circle cx="710.65" cy="164.18" r="2.15" fill="none" stroke="#00ff00" stroke-width="1.6"/><circle cx="710.65" cy="164.18" r="0.65" fill="#00ff00"/>
<circle cx="713.29" cy="161.23" r="2.15" fill="none" stroke="#00ff00" stroke-width="1.6"/><circle cx="713.29" cy="161.23" r="0.65" fill="#00ff00"/>
<circle cx="715.83" cy="158.32" r="2.15" fill="none" stroke="#00ff00" stroke-width="1.6"/><circle cx="715.83" cy="158.32" r="0.65" fill="#00ff00"/>
<circle cx="718.27" cy="155.46" r="2.15" fill="none" stroke="#00ff00" stroke-width="1.6"/><circle cx="718.27" cy="155.46" r="0.65" fill="#00ff00"/>
<circle cx="720.63" cy="152.65" r="2.15" fill="none" stroke="#00ff00" stroke-width="1.6"/><circle cx="720.63" cy="152.65" r="0.65" fill="#00ff00"/>
<circle cx="722.9" cy="149.91" r="2.15" fill="none" stroke="#00ff00" stroke-width="1.6"/><circle cx="722.9" cy="149.91" r="0.65" fill="#00ff00"/>
<circle cx="725.09" cy="147.23" r="2.15" fill="none" stroke="#00ff00" stroke-width="1.6"/><circle cx="725.09" cy="147.23" r="0.65" fill="#00ff00"/>
<circle cx="727.21" cy="144.61" r="2.15" fill="none" stroke="#00ff00" stroke-width="1.6"/><circle cx="727.21" cy="144.61" r="0.65" fill="#00ff00"/>
<circle cx="729.27" cy="142.05" r="2.15" fill="none" stroke="#00ff00" stroke-width="1.6"/><circle cx="729.27" cy="142.05" r="0.65" fill="#00ff00"/>
<circle cx="731.26" cy="139.56" r="2.15" fill="none" stroke="#00ff00" stroke-width="1.6"/><circle cx="731.26" cy="139.56" r="0.65" fill="#00ff00"/>
<circle cx="733.19" cy="137.13" r="2.15" fill="none" stroke="#00ff00" stroke-width="1.6"/><circle cx="733.19" cy="137.13" r="0.65" fill="#00ff00"/>
<circle cx="735.07" cy="134.77" r="2.15" fill="none" stroke="#00ff00" stroke-width="1.6"/><circle cx="735.07" cy="134.77" r="0.65" fill="#00ff00"/>
<circle cx="736.89" cy="132.47" r="2.15" fill="none" stroke="#00ff00" stroke-width="1.6"/><circle cx="736.89" cy="132.47" r="0.65" fill="#00ff00"/>
<circle cx="738.66" cy="130.23" r="2.15" fill="none" stroke="#00ff00" stroke-width="1.6"/><circle cx="738.66" cy="130.23" r="0.65" fill="#00ff00"/>
<circle cx="740.39" cy="128.06" r="2.15" fill="none" stroke="#00ff00" stroke-width="1.6"/><circle cx="740.39" cy="128.06" r="0.65" fill="#00ff00"/>
<circle cx="742.07" cy="125.94" r="2.15" fill="none" stroke="#00ff00" stroke-width="1.6"/><circle cx="742.07" cy="125.94" r="0.65" fill="#00ff00"/>
<circle cx="743.71" cy="123.89" r="2.15" fill="none" stroke="#00ff00" stroke-width="1.6"/><circle cx="743.71" cy="123.89" r="0.65" fill="#00ff00"/>
<circle cx="745.3" cy="121.89" r="2.15" fill="none" stroke="#00ff00" stroke-width="1.6"/><circle cx="745.3" cy="121.89" r="0.65" fill="#00ff00"/>
<circle cx="746.86" cy="119.95" r="2.15" fill="none" stroke="#00ff00" stroke-width="1.6"/><circle cx="746.86" cy="119.95" r="0.65" fill="#00ff00"/>
<circle cx="748.39" cy="118.06" r="2.15" fill="none" stroke="#00ff00" stroke-width="1.6"/><circle cx="748.39" cy="118.06" r="0.65" fill="#00ff00"/>
<circle cx="749.87" cy="116.21" r="2.15" fill="none" stroke="#00ff00" stroke-width="1.6"/><circle cx="749.87" cy="116.21" r="0.65" fill="#00ff00"/>
<circle cx="751.33" cy="114.39" r="2.15" fill="none" stroke="#00ff00" stroke-width="1.6"/><circle cx="751.33" cy="114.39" r="0.65" fill="#00ff00"/>
<circle cx="752.75" cy="112.59" r="2.15" fill="none" stroke="#00ff00" stroke-width="1.6"/><circle cx="752.75" cy="112.59" r="0.65" fill="#00ff00"/>
<circle cx="754.14" cy="110.81" r="2.15" fill="none" stroke="#00ff00" stroke-width="1.6"/><circle cx="754.14" cy="110.81" r="0.65" fill="#00ff00"/>
<circle cx="755.5" cy="109.04" r="2.15" fill="none" stroke="#00ff00" stroke-width="1.6"/><circle cx="755.5" cy="109.04" r="0.65" fill="#00ff00"/>
<circle cx="756.84" cy="107.31" r="2.15" fill="none" stroke="#00ff00" stroke-width="1.6"/><circle cx="756.84" cy="107.31" r="0.65" fill="#00ff00"/>
<circle cx="758.15" cy="105.59" r="2.15" fill="none" stroke="#00ff00" stroke-width="1.6"/><circle cx="758.15" cy="105.59" r="0.65" fill="#00ff00"/>
<circle cx="759.43" cy="103.91" r="2.15" fill="none" stroke="#00ff00" stroke-width="1.6"/><circle cx="759.43" cy="103.91" r="0.65" fill="#00ff00"/>
<circle cx="760.68" cy="102.25" r="2.15" fill="none" stroke="#00ff00" stroke-width="1.6"/><circle cx="760.68" cy="102.25" r="0.65" fill="#00ff00"/>
<circle cx="761.92" cy="100.62" r="2.15" fill="none" stroke="#00ff00" stroke-width="1.6"/><circle cx="761.92" cy="100.62" r="0.65" fill="#00ff00"/>
<circle cx="763.13" cy="99.01" r="2.15" fill="none" stroke="#00ff00" stroke-width="1.6"/><circle cx="763.13" cy="99.01" r="0.65" fill="#00ff00"/>
<circle cx="764.31" cy="97.44" r="2.15" fill="none" stroke="#00ff00" stroke-width="1.6"/><circle cx="764.31" cy="97.44" r="0.65" fill="#00ff00"/>
<circle cx="765.48" cy="95.9" r="2.15" fill="none" stroke="#00ff00" stroke-width="1.6"/><circle cx="765.48" cy="95.9" r="0.65" fill="#00ff00"/>
<circle cx="766.63" cy="94.4" r="2.15" fill="none" stroke="#00ff00" stroke-width="1.6"/><circle cx="766.63" cy="94.4" r="0.65" fill="#00ff00"/>
<circle cx="767.75" cy="92.92" r="2.15" fill="none" stroke="#00ff00" stroke-width="1.6"/><circle cx="767.75" cy="92.92" r="0.65" fill="#00ff00"/>
<circle cx="768.86" cy="91.48" r="2.15" fill="none" stroke="#00ff00" stroke-width="1.6"/><circle cx="768.86" cy="91.48" r="0.65" fill="#00ff00"/>
<circle cx="769.94" cy="90.07" r="2.15" fill="none" stroke="#00ff00" stroke-width="1.6"/><circle cx="769.94" cy="90.07" r="0.65" fill="#00ff00"/>
<circle cx="771.01" cy="88.69" r="2.15" fill="none" stroke="#00ff00" stroke-width="1.6"/><circle cx="771.01" cy="88.69" r="0.65" fill="#00ff00"/>
<circle cx="772.07" cy="87.34" r="2.15" fill="none" stroke="#00ff00" stroke-width="1.6"/><circle cx="772.07" cy="87.34" r="0.65" fill="#00ff00"/>
<circle cx="773.1" cy="86.03" r="2.15" fill="none" stroke="#00ff00" stroke-width="1.6"/><circle cx="773.1" cy="86.03" r="0.65" fill="#00ff00"/>
<circle cx="774.12" cy="84.75" r="2.15" fill="none" stroke="#00ff00" stroke-width="1.6"/><circle cx="774.12" cy="84.75" r="0.65" fill="#00ff00"/>
<circle cx="775.12" cy="83.5" r="2.15" fill="none" stroke="#00ff00" stroke-width="1.6"/><circle cx="775.12" cy="83.5" r="0.65" fill="#00ff00"/>
<circle cx="776.11" cy="82.28" r="2.15" fill="none" stroke="#00ff00" stroke-width="1.6"/><circle cx="776.11" cy="82.28" r="0.65" fill="#00ff00"/>
<circle cx="777.09" cy="81.1" r="2.15" fill="none" stroke="#00ff00" stroke-width="1.6"/><circle cx="777.09" cy="81.1" r="0.65" fill="#00ff00"/>
<circle cx="778.04" cy="79.95" r="2.15" fill="none" stroke="#00ff00" stroke-width="1.6"/><circle cx="778.04" cy="79.95" r="0.65" fill="#00ff00"/>
<circle cx="778.99" cy="78.83" r="2.15" fill="none" stroke="#00ff00" stroke-width="1.6"/><circle cx="778.99" cy="78.83" r="0.65" fill="#00ff00"/>
<circle cx="779.92" cy="77.74" r="2.15" fill="none" stroke="#00ff00" stroke-width="1.6"/><circle cx="779.92" cy="77.74" r="0.65" fill="#00ff00"/>
<circle cx="780.84" cy="76.68" r="2.15" fill="none" stroke="#00ff00" stroke-width="1.6"/><circle cx="780.84" cy="76.68" r="0.65" fill="#00ff00"/>
<circle cx="781.74" cy="75.65" r="2.15" fill="none" stroke="#00ff00" stroke-width="1.6"/><circle cx="781.74" cy="75.65" r="0.65" fill="#00ff00"/>
<circle cx="782.64" cy="74.65" r="2.15" fill="none" stroke="#00ff00" stroke-width="1.6"/><circle cx="782.64" cy="74.65" r="0.65" fill="#00ff00"/>
<circle cx="783.52" cy="73.69" r="2.15" fill="none" stroke="#00ff00" stroke-width="1.6"/><circle cx="783.52" cy="73.69" r="0.65" fill="#00ff00"/>
<circle cx="784.38" cy="72.75" r="2.15" fill="none" stroke="#00ff00" stroke-width="1.6"/><circle cx="784.38" cy="72.75" r="0.65" fill="#00ff00"/>
<circle cx="785.24" cy="71.84" r="2.15" fill="none" stroke="#00ff00" stroke-width="1.6"/><circle cx="785.24" cy="71.84" r="0.65" fill="#00ff00"/>
<circle cx="786.09" cy="70.97" r="2.15" fill="none" stroke="#00ff00" stroke-width="1.6"/><circle cx="786.09" cy="70.97" r="0.65" fill="#00ff00"/>
<circle cx="786.92" cy="70.12" r="2.15" fill="none" stroke="#00ff00" stroke-width="1.6"/><circle cx="786.92" cy="70.12" r="0.65" fill="#00ff00"/>
<circle cx="787.75" cy="69.3" r="2.15" fill="none" stroke="#00ff00" stroke-width="1.6"/><circle cx="787.75" cy="69.3" r="0.65" fill="#00ff00"/>
<circle cx="788.56" cy="68.5" r="2.15" fill="none" stroke="#00ff00" stroke-width="1.6"/><circle cx="788.56" cy="68.5" r="0.65" fill="#00ff00"/>
<circle cx="789.36" cy="67.73" r="2.15" fill="none" stroke="#00ff00" stroke-width="1.6"/><circle cx="789.36" cy="67.73" r="0.65" fill="#00ff00"/>
<circle cx="790.16" cy="66.97" r="2.15" fill="none" stroke="#00ff00" stroke-width="1.6"/><circle cx="790.16" cy="66.97" r="0.65" fill="#00ff00"/>
<circle cx="790.94" cy="66.23" r="2.15" fill="none" stroke="#00ff00" stroke-width="1.6"/><circle cx="790.94" cy="66.23" r="0.65" fill="#00ff00"/>
<circle cx="791.72" cy="65.49" r="2.15" fill="none" stroke="#00ff00" stroke-width="1.6"/><circle cx="791.72" cy="65.49" r="0.65" fill="#00ff00"/>
<circle cx="792.48" cy="64.77" r="2.15" fill="none" stroke="#00ff00" stroke-width="1.6"/><circle cx="792.48" cy="64.77" r="0.65" fill="#00ff00"/>
<circle cx="793.24" cy="64.04" r="2.15" fill="none" stroke="#00ff00" stroke-width="1.6"/><circle cx="793.24" cy="64.04" r="0.65" fill="#00ff00"/>
<circle cx="793.99" cy="63.32" r="2.15" fill="none" stroke="#00ff00" stroke-width="1.6"/><circle cx="793.99" cy="63.32" r="0.65" fill="#00ff00"/>
<circle cx="794.73" cy="62.59" r="2.15" fill="none" stroke="#00ff00" stroke-width="1.6"/><circle cx="794.73" cy="62.59" r="0.65" fill="#00ff00"/>
<circle cx="795.46" cy="61.86" r="2.15" fill="none" stroke="#00ff00" stroke-width="1.6"/><circle cx="795.46" cy="61.86" r="0.65" fill="#00ff00"/>
<circle cx="796.18" cy="61.12" r="2.15" fill="none" stroke="#00ff00" stroke-width="1.6"/><circle cx="796.18" cy="61.12" r="0.65" fill="#00ff00"/>
<circle cx="796.9" cy="60.37" r="2.15" fill="none" stroke="#00ff00" stroke-width="1.6"/><circle cx="796.9" cy="60.37" r="0.65" fill="#00ff00"/>
<circle cx="797.6" cy="59.6" r="2.15" fill="none" stroke="#00ff00" stroke-width="1.6"/><circle cx="797.6" cy="59.6" r="0.65" fill="#00ff00"/>
<circle cx="798.3" cy="58.83" r="2.15" fill="none" stroke="#00ff00" stroke-width="1.6"/><circle cx="798.3" cy="58.83" r="0.65" fill="#00ff00"/>
<circle cx="799" cy="58.03" r="2.15" fill="none" stroke="#00ff00" stroke-width="1.6"/><circle cx="799" cy="58.03" r="0.65" fill="#00ff00"/>
<circle cx="799.68" cy="57.22" r="2.15" fill="none" stroke="#00ff00" stroke-width="1.6"/><circle cx="799.68" cy="57.22" r="0.65" fill="#00ff00"/>
<circle cx="800.36" cy="56.39" r="2.15" fill="none" stroke="#00ff00" stroke-width="1.6"/><circle cx="800.36" cy="56.39" r="0.65" fill="#00ff00"/>
<circle cx="801.03" cy="55.54" r="2.15" fill="none" stroke="#00ff00" stroke-width="1.6"/><circle cx="801.03" cy="55.54" r="0.65" fill="#00ff00"/>
<circle cx="801.69" cy="54.67" r="2.15" fill="none" stroke="#00ff00" stroke-width="1.6"/><circle cx="801.69" cy="54.67" r="0.65" fill="#00ff00"/>
<circle cx="802.35" cy="53.78" r="2.15" fill="none" stroke="#00ff00" stroke-width="1.6"/><circle cx="802.35" cy="53.78" r="0.65" fill="#00ff00"/>
<circle cx="803" cy="52.86" r="2.15" fill="none" stroke="#00ff00" stroke-width="1.6"/><circle cx="803" cy="52.86" r="0.65" fill="#00ff00"/>
<circle cx="505" cy="246.7" r="2.4" fill="#0000ff"/>
<path d="M549.85 239.6 L546.1 245.65 L553.6 245.65 Z" fill="#ff00ff"/>
<path d="M576.09 239.6 L572.34 245.65 L579.84 245.65 Z" fill="#ff00ff"/>
<path d="M594.71 239.6 L590.96 245.65 L598.46 245.65 Z" fill="#ff00ff"/>
<path d="M609.15 239.6 L605.4 245.65 L612.9 245.65 Z" fill="#ff00ff"/>
<path d="M620.94 239.6 L617.19 245.65 L624.69 245.65 Z" fill="#ff00ff"/>
<path d="M630.92 239.6 L627.17 245.65 L634.67 245.65 Z" fill="#ff00ff"/>
<path d="M639.56 239.6 L635.81 245.65 L643.31 245.65 Z" fill="#ff00ff"/>
<path d="M647.18 239.6 L643.43 245.65 L650.93 245.65 Z" fill="#ff00ff"/>
<path d="M654 239.6 L650.25 245.65 L657.75 245.65 Z" fill="#ff00ff"/>
<path d="M660.17 239.6 L656.42 245.65 L663.92 245.65 Z" fill="#ff00ff"/>
<path d="M665.8 239.6 L662.05 245.65 L669.55 245.65 Z" fill="#ff00ff"/>
<path d="M670.98 239.6 L667.23 245.65 L674.73 245.65 Z" fill="#ff00ff"/>
<path d="M675.77 239.6 L672.02 245.65 L679.52 245.65 Z" fill="#ff00ff"/>
<path d="M680.24 239.6 L676.49 245.65 L683.99 245.65 Z" fill="#ff00ff"/>
<path d="M684.41 239.6 L680.66 245.65 L688.16 245.65 Z" fill="#ff00ff"/>
<path d="M688.34 239.6 L684.59 245.65 L692.09 245.65 Z" fill="#ff00ff"/>
<path d="M692.04 239.6 L688.29 245.65 L695.79 245.65 Z" fill="#ff00ff"/>
<path d="M695.53 239.6 L691.78 245.65 L699.28 245.65 Z" fill="#ff00ff"/>
<path d="M698.85 239.6 L695.1 245.65 L702.6 245.65 Z" fill="#ff00ff"/>
<path d="M702.01 239.6 L698.26 245.65 L705.76 245.65 Z" fill="#ff00ff"/>
<path d="M705.02 239.6 L701.27 245.65 L708.77 245.65 Z" fill="#ff00ff"/>
<path d="M707.9 239.6 L704.15 245.65 L711.65 245.65 Z" fill="#ff00ff"/>
<path d="M710.65 239.6 L706.9 245.65 L714.4 245.65 Z" fill="#ff00ff"/>
<path d="M713.29 239.6 L709.54 245.65 L717.04 245.65 Z" fill="#ff00ff"/>
<path d="M715.83 239.6 L712.08 245.65 L719.58 245.65 Z" fill="#ff00ff"/>
<path d="M718.27 239.6 L714.52 245.65 L722.02 245.65 Z" fill="#ff00ff"/>
<path d="M720.63 239.6 L716.88 245.65 L724.38 245.65 Z" fill="#ff00ff"/>
<path d="M722.9 239.6 L719.15 245.65 L726.65 245.65 Z" fill="#ff00ff"/>
<path d="M725.09 239.6 L721.34 245.65 L728.84 245.65 Z" fill="#ff00ff"/>
<path d="M727.21 239.6 L723.46 245.65 L730.96 245.65 Z" fill="#ff00ff"/>
<path d="M729.27 239.6 L725.52 245.65 L733.02 245.65 Z" fill="#ff00ff"/>
<path d="M731.26 239.6 L727.51 245.65 L735.01 245.65 Z" fill="#ff00ff"/>
<path d="M733.19 239.6 L729.44 245.65 L736.94 245.65 Z" fill="#ff00ff"/>
<path d="M735.07 239.6 L731.32 245.65 L738.82 245.65 Z" fill="#ff00ff"/>
<path d="M736.89 239.6 L733.14 245.65 L740.64 245.65 Z" fill="#ff00ff"/>
<path d="M738.66 239.6 L734.91 245.65 L742.41 245.65 Z" fill="#ff00ff"/>
<path d="M740.39 239.6 L736.64 245.65 L744.14 245.65 Z" fill="#ff00ff"/>
<path d="M742.07 239.6 L738.32 245.65 L745.82 245.65 Z" fill="#ff00ff"/>
<path d="M743.71 239.6 L739.96 245.65 L747.46 245.65 Z" fill="#ff00ff"/>
<path d="M745.3 239.6 L741.55 245.65 L749.05 245.65 Z" fill="#ff00ff"/>
<path d="M746.86 239.6 L743.11 245.65 L750.61 245.65 Z" fill="#ff00ff"/>
<path d="M748.39 239.6 L744.64 245.65 L752.14 245.65 Z" fill="#ff00ff"/>
<path d="M749.87 239.6 L746.12 245.65 L753.62 245.65 Z" fill="#ff00ff"/>
<path d="M751.33 239.6 L747.58 245.65 L755.08 245.65 Z" fill="#ff00ff"/>
<path d="M752.75 239.6 L749 245.65 L756.5 245.65 Z" fill="#ff00ff"/>
<path d="M754.14 239.6 L750.39 245.65 L757.89 245.65 Z" fill="#ff00ff"/>
<path d="M755.5 239.6 L751.75 245.65 L759.25 245.65 Z" fill="#ff00ff"/>
<path d="M756.84 239.6 L753.09 245.65 L760.59 245.65 Z" fill="#ff00ff"/>
<path d="M758.15 239.6 L754.4 245.65 L761.9 245.65 Z" fill="#ff00ff"/>
<path d="M759.43 239.6 L755.68 245.65 L763.18 245.65 Z" fill="#ff00ff"/>
<path d="M760.68 239.6 L756.93 245.65 L764.43 245.65 Z" fill="#ff00ff"/>
<path d="M761.92 239.6 L758.17 245.65 L765.67 245.65 Z" fill="#ff00ff"/>
<path d="M763.13 239.6 L759.38 245.65 L766.88 245.65 Z" fill="#ff00ff"/>
<path d="M764.31 239.6 L760.56 245.65 L768.06 245.65 Z" fill="#ff00ff"/>
<path d="M765.48 239.6 L761.73 245.65 L769.23 245.65 Z" fill="#ff00ff"/>
<path d="M766.63 239.6 L762.88 245.65 L770.38 245.65 Z" fill="#ff00ff"/>
<path d="M767.75 239.6 L764 245.65 L771.5 245.65 Z" fill="#ff00ff"/>
<path d="M768.86 239.6 L765.11 245.65 L772.61 245.65 Z" fill="#ff00ff"/>
<path d="M769.94 239.6 L766.19 245.65 L773.69 245.65 Z" fill="#ff00ff"/>
<path d="M771.01 239.6 L767.26 245.65 L774.76 245.65 Z" fill="#ff00ff"/>
<path d="M772.07 239.6 L768.32 245.65 L775.82 245.65 Z" fill="#ff00ff"/>
<path d="M773.1 239.6 L769.35 245.65 L776.85 245.65 Z" fill="#ff00ff"/>
<path d="M774.12 239.6 L770.37 245.65 L777.87 245.65 Z" fill="#ff00ff"/>
<path d="M775.12 239.6 L771.37 245.65 L778.87 245.65 Z" fill="#ff00ff"/>
<path d="M776.11 239.6 L772.36 245.65 L779.86 245.65 Z" fill="#ff00ff"/>
<path d="M777.09 239.6 L773.34 245.65 L780.84 245.65 Z" fill="#ff00ff"/>
<path d="M778.04 239.6 L774.29 245.65 L781.79 245.65 Z" fill="#ff00ff"/>
<path d="M778.99 239.6 L775.24 245.65 L782.74 245.65 Z" fill="#ff00ff"/>
<path d="M779.92 239.6 L776.17 245.65 L783.67 245.65 Z" fill="#ff00ff"/>
<path d="M780.84 239.6 L777.09 245.65 L784.59 245.65 Z" fill="#ff00ff"/>
<path d="M781.74 239.6 L777.99 245.65 L785.49 245.65 Z" fill="#ff00ff"/>
<path d="M782.64 239.6 L778.89 245.65 L786.39 245.65 Z" fill="#ff00ff"/>
<path d="M783.52 239.6 L779.77 245.65 L787.27 245.65 Z" fill="#ff00ff"/>
<path d="M784.38 239.6 L780.63 245.65 L788.13 245.65 Z" fill="#ff00ff"/>
<path d="M785.24 239.6 L781.49 245.65 L788.99 245.65 Z" fill="#ff00ff"/>
<path d="M786.09 239.6 L782.34 245.65 L789.84 245.65 Z" fill="#ff00ff"/>
<path d="M786.92 239.6 L783.17 245.65 L790.67 245.65 Z" fill="#ff00ff"/>
<path d="M787.75 239.6 L784 245.65 L791.5 245.65 Z" fill="#ff00ff"/>
<path d="M788.56 239.6 L784.81 245.65 L792.31 245.65 Z" fill="#ff00ff"/>
<path d="M789.36 239.6 L785.61 245.65 L793.11 245.65 Z" fill="#ff00ff"/>
<path d="M790.16 239.6 L786.41 245.65 L793.91 245.65 Z" fill="#ff00ff"/>
<path d="M790.94 239.6 L787.19 245.65 L794.69 245.65 Z" fill="#ff00ff"/>
<path d="M791.72 239.6 L787.97 245.65 L795.47 245.65 Z" fill="#ff00ff"/>
<path d="M792.48 239.6 L788.73 245.65 L796.23 245.65 Z" fill="#ff00ff"/>
<path d="M793.24 239.6 L789.49 245.65 L796.99 245.65 Z" fill="#ff00ff"/>
<path d="M793.99 239.6 L790.24 245.65 L797.74 245.65 Z" fill="#ff00ff"/>
<path d="M794.73 239.6 L790.98 245.65 L798.48 245.65 Z" fill="#ff00ff"/>
<path d="M795.46 239.6 L791.71 245.65 L799.21 245.65 Z" fill="#ff00ff"/>
<path d="M796.18 239.6 L792.43 245.65 L799.93 245.65 Z" fill="#ff00ff"/>
<path d="M796.9 239.6 L793.15 245.65 L800.65 245.65 Z" fill="#ff00ff"/>
<path d="M797.6 239.6 L793.85 245.65 L801.35 245.65 Z" fill="#ff00ff"/>
<path d="M798.3 239.6 L794.55 245.65 L802.05 245.65 Z" fill="#ff00ff"/>
<path d="M799 239.6 L795.25 245.65 L802.75 245.65 Z" fill="#ff00ff"/>
<path d="M799.68 239.6 L795.93 245.65 L803.43 245.65 Z" fill="#ff00ff"/>
<path d="M800.36 239.6 L796.61 245.65 L804.11 245.65 Z" fill="#ff00ff"/>
<path d="M801.03 239.6 L797.28 245.65 L804.78 245.65 Z" fill="#ff00ff"/>
<path d="M801.69 239.6 L797.94 245.65 L805.44 245.65 Z" fill="#ff00ff"/>
<path d="M802.35 239.6 L798.6 245.65 L806.1 245.65 Z" fill="#ff00ff"/>
<path d="M803 239.6 L799.25 245.65 L806.75 245.65 Z" fill="#ff00ff"/>
</g>
<g id="rightlines" fill="none" stroke-linejoin="round">
<path d="M505 243.9 L505.22 243.9 L505.44 243.9 L505.65 243.89 L505.87 243.89 L506.09 243.89 L506.31 243.89 L506.52 243.88 L506.74 243.88 L506.96 243.88 L507.18 243.88 L507.4 243.87 L507.61 243.87 L507.83 243.87 L508.05 243.86 L508.27 243.86 L508.48 243.86 L508.7 243.86 L508.92 243.85 L509.14 243.85 L509.36 243.84 L509.57 243.84 L509.79 243.84 L510.01 243.83 L510.23 243.83 L510.44 243.83 L510.66 243.82 L510.88 243.82 L511.1 243.81 L511.32 243.81 L511.53 243.81 L511.75 243.8 L511.97 243.8 L512.19 243.79 L512.41 243.79 L512.62 243.78 L512.84 243.78 L513.06 243.77 L513.28 243.77 L513.49 243.76 L513.71 243.76 L513.93 243.75 L514.15 243.75 L514.37 243.74 L514.58 243.74 L514.8 243.73 L515.02 243.73 L515.24 243.72 L515.45 243.72 L515.67 243.71 L515.89 243.71 L516.11 243.7 L516.33 243.7 L516.54 243.69 L516.76 243.69 L516.98 243.68 L517.2 243.67 L517.41 243.67 L517.63 243.66 L517.85 243.66 L518.07 243.65 L518.29 243.65 L518.5 243.64 L518.72 243.63 L518.94 243.63 L519.16 243.62 L519.37 243.62 L519.59 243.61 L519.81 243.61 L520.03 243.6 L520.25 243.59 L520.46 243.59 L520.68 243.58 L520.9 243.57 L521.12 243.57 L521.33 243.56 L521.55 243.56 L521.77 243.55 L521.99 243.54 L522.21 243.54 L522.42 243.53 L522.64 243.52 L522.86 243.52 L523.08 243.51 L523.29 243.5 L523.51 243.49 L523.73 243.49 L523.95 243.48 L524.17 243.47 L524.38 243.47 L524.6 243.46 L524.82 243.45 L525.04 243.44 L525.25 243.43 L525.47 243.43 L525.69 243.42 L525.91 243.41 L526.13 243.4 L526.34 243.39 L526.56 243.39 L526.78 243.38 L527 243.37 L527.22 243.36 L527.43 243.35 L527.65 243.34 L527.87 243.33 L528.09 243.32 L528.3 243.31 L528.52 243.3 L528.74 243.3 L528.96 243.29 L529.18 243.28 L529.39 243.27 L529.61 243.26 L529.83 243.25 L530.05 243.24 L530.26 243.22 L530.48 243.21 L530.7 243.2 L530.92 243.19 L531.14 243.18 L531.35 243.17 L531.57 243.16 L531.79 243.15 L532.01 243.14 L532.22 243.13 L532.44 243.11 L532.66 243.1 L532.88 243.09 L533.1 243.08 L533.31 243.06 L533.53 243.05 L533.75 243.04 L533.97 243.03 L534.18 243.01 L534.4 243 L534.62 242.99 L534.84 242.97 L535.06 242.96 L535.27 242.95 L535.49 242.93 L535.71 242.92 L535.93 242.9 L536.14 242.89 L536.36 242.88 L536.58 242.86 L536.8 242.84 L537.02 242.83 L537.23 242.81 L537.45 242.79 L537.67 242.77 L537.89 242.76 L538.1 242.74 L538.32 242.72 L538.54 242.7 L538.76 242.68 L538.98 242.66 L539.19 242.63 L539.41 242.61 L539.63 242.59 L539.85 242.57 L540.06 242.54 L540.28 242.52 L540.5 242.49 L540.72 242.47 L540.94 242.44 L541.15 242.41 L541.37 242.39 L541.59 242.36 L541.81 242.33 L542.03 242.3 L542.24 242.27 L542.46 242.24 L542.68 242.21 L542.9 242.18 L543.11 242.15 L543.33 242.12 L543.55 242.08 L543.77 242.05 L543.99 242.02 L544.2 241.98 L544.42 241.95 L544.64 241.91 L544.86 241.87 L545.07 241.84 L545.29 241.8 L545.51 241.75 L545.73 241.71 L545.95 241.67 L546.16 241.62 L546.38 241.57 L546.6 241.52 L546.82 241.47 L547.03 241.42 L547.25 241.37 L547.47 241.31 L547.69 241.25 L547.91 241.19 L548.12 241.13 L548.34 241.06 L548.56 240.99 L548.78 240.92 L548.99 240.85 L549.21 240.78 L549.43 240.7 L549.65 240.62 L549.87 240.53 L550.08 240.44 L550.3 240.33 L550.52 240.22 L550.74 240.1 L550.95 239.97 L551.17 239.83 L551.39 239.68 L551.61 239.53 L551.83 239.37 L552.04 239.21 L552.26 239.04 L552.48 238.87 L552.7 238.69 L552.91 238.51 L553.13 238.33 L553.35 238.14 L553.57 237.95 L553.79 237.75 L554 237.54 L554.22 237.32 L554.44 237.09 L554.66 236.84 L554.87 236.59 L555.09 236.34 L555.31 236.07 L555.53 235.79 L555.75 235.51 L555.96 235.22 L556.18 234.93 L556.4 234.62 L556.62 234.29 L556.84 233.95 L557.05 233.59 L557.27 233.22 L557.49 232.84 L557.71 232.44 L557.92 232.05 L558.14 231.65 L558.36 231.24 L558.58 230.84 L558.8 230.44 L559.01 230.05 L559.23 229.66 L559.45 229.27 L559.67 228.86 L559.88 228.43 L560.1 227.98 L560.32 227.49 L560.54 226.96 L560.76 226.38 L560.97 225.76 L561.19 225.08 L561.41 224.35 L561.63 223.58 L561.84 222.76 L562.06 221.91 L562.28 221.02 L562.5 220.09 L562.72 219.13 L562.93 218.14 L563.15 217.13 L563.37 216.07 L563.59 214.92 L563.8 213.69 L564.02 212.39 L564.24 211.04 L564.46 209.63 L564.68 208.2 L564.89 206.74 L565.11 205.28 L565.33 203.77 L565.55 202.14 L565.76 200.32 L565.98 198.24 L566.2 195.9 L566.42 193.34 L566.64 190.58 L566.85 187.66 L567.07 184.63 L567.29 181.51 L567.51 178.34 L567.72 175.15 L567.94 171.98 L568.16 168.87 L568.38 165.85 L568.6 162.95 L568.81 160.15 L569.03 157.36 L569.25 154.6 L569.47 151.85 L569.68 149.11 L569.9 146.38 L570.12 143.66 L570.34 140.95 L570.56 138.23 L570.77 135.51 L570.99 132.78 L571.21 130.05 L571.43 127.3 L571.65 124.54 L571.86 121.76 L572.08 118.96 L572.3 116.09 L572.52 113.16 L572.73 110.19 L572.95 107.19 L573.17 104.17 L573.39 101.14 L573.61 98.12 L573.82 95.12 L574.04 92.16 L574.26 89.25 L574.48 86.4 L574.69 83.62 L574.91 80.93 L575.13 78.35 L575.35 75.88 L575.57 73.53 L575.78 71.31 L576 69.18 L576.22 67.12 L576.44 65.11 L576.65 63.11 L576.87 61.09 L577.09 59.04 L577.31 56.91 L577.53 54.74 L577.74 52.6 L577.96 50.56 L578.18 48.68 L578.4 47.02 L578.61 45.52 L578.83 44.06 L579.05 42.65 L579.27 41.29 L579.49 39.99 L579.7 38.75 L579.92 37.6 L580.14 36.54 L580.36 35.56 L580.57 34.69 L580.79 33.93 L581.01 33.28 L581.23 32.67 L581.45 32.09 L581.66 31.54 L581.88 31.02 L582.1 30.53 L582.32 30.07 L582.53 29.63 L582.75 29.21 L582.97 28.83 L583.19 28.46 L583.41 28.11 L583.62 27.79 L583.84 27.48 L584.06 27.2 L584.28 26.93 L584.49 26.67 L584.71 26.42 L584.93 26.18 L585.15 25.94 L585.37 25.72 L585.58 25.5 L585.8 25.3 L586.02 25.1 L586.24 24.92 L586.46 24.74 L586.67 24.58 L586.89 24.43 L587.11 24.3 L587.33 24.17 L587.54 24.07 L587.76 23.97 L587.98 23.89 L588.2 23.8 L588.42 23.71 L588.63 23.63 L588.85 23.55 L589.07 23.47 L589.29 23.4 L589.5 23.33 L589.72 23.26 L589.94 23.2 L590.16 23.14 L590.38 23.09 L590.59 23.04 L590.81 23 L591.03 22.96 L591.25 22.94 L591.46 22.92 L591.68 22.9 L591.9 22.9 L698.8 22.9" stroke="#ff0000" stroke-width="1.5"/>
<path d="M505 244.1 L505.23 244.1 L505.45 244.1 L505.68 244.1 L505.91 244.1 L506.13 244.1 L506.36 244.1 L506.58 244.1 L506.81 244.1 L507.04 244.1 L507.26 244.09 L507.49 244.09 L507.72 244.09 L507.94 244.09 L508.17 244.09 L508.39 244.09 L508.62 244.09 L508.85 244.08 L509.07 244.08 L509.3 244.08 L509.53 244.08 L509.75 244.08 L509.98 244.07 L510.21 244.07 L510.43 244.07 L510.66 244.07 L510.88 244.06 L511.11 244.06 L511.34 244.06 L511.56 244.06 L511.79 244.05 L512.02 244.05 L512.24 244.05 L512.47 244.04 L512.69 244.04 L512.92 244.04 L513.15 244.03 L513.37 244.03 L513.6 244.03 L513.83 244.02 L514.05 244.02 L514.28 244.01 L514.51 244.01 L514.73 244.01 L514.96 244 L515.18 244 L515.41 243.99 L515.64 243.99 L515.86 243.98 L516.09 243.98 L516.32 243.98 L516.54 243.97 L516.77 243.97 L516.99 243.96 L517.22 243.96 L517.45 243.95 L517.67 243.94 L517.9 243.94 L518.13 243.93 L518.35 243.93 L518.58 243.92 L518.81 243.92 L519.03 243.91 L519.26 243.91 L519.48 243.9 L519.71 243.89 L519.94 243.89 L520.16 243.88 L520.39 243.88 L520.62 243.87 L520.84 243.86 L521.07 243.86 L521.29 243.85 L521.52 243.84 L521.75 243.84 L521.97 243.83 L522.2 243.82 L522.43 243.82 L522.65 243.81 L522.88 243.8 L523.11 243.8 L523.33 243.79 L523.56 243.78 L523.78 243.78 L524.01 243.77 L524.24 243.76 L524.46 243.75 L524.69 243.75 L524.92 243.74 L525.14 243.73 L525.37 243.72 L525.59 243.71 L525.82 243.71 L526.05 243.7 L526.27 243.69 L526.5 243.68 L526.73 243.68 L526.95 243.67 L527.18 243.66 L527.41 243.65 L527.63 243.64 L527.86 243.63 L528.08 243.63 L528.31 243.62 L528.54 243.61 L528.76 243.6 L528.99 243.59 L529.22 243.58 L529.44 243.57 L529.67 243.57 L529.89 243.56 L530.12 243.55 L530.35 243.54 L530.57 243.53 L530.8 243.52 L531.03 243.51 L531.25 243.5 L531.48 243.49 L531.71 243.48 L531.93 243.47 L532.16 243.47 L532.38 243.46 L532.61 243.45 L532.84 243.44 L533.06 243.43 L533.29 243.42 L533.52 243.41 L533.74 243.4 L533.97 243.39 L534.19 243.38 L534.42 243.37 L534.65 243.36 L534.87 243.35 L535.1 243.34 L535.33 243.33 L535.55 243.32 L535.78 243.31 L536.01 243.3 L536.23 243.29 L536.46 243.28 L536.68 243.27 L536.91 243.26 L537.14 243.24 L537.36 243.23 L537.59 243.22 L537.82 243.21 L538.04 243.19 L538.27 243.18 L538.49 243.16 L538.72 243.15 L538.95 243.14 L539.17 243.12 L539.4 243.1 L539.63 243.09 L539.85 243.07 L540.08 243.05 L540.31 243.04 L540.53 243.02 L540.76 243 L540.98 242.98 L541.21 242.96 L541.44 242.94 L541.66 242.92 L541.89 242.9 L542.12 242.88 L542.34 242.86 L542.57 242.84 L542.79 242.81 L543.02 242.79 L543.25 242.77 L543.47 242.74 L543.7 242.72 L543.93 242.69 L544.15 242.67 L544.38 242.64 L544.61 242.62 L544.83 242.59 L545.06 242.56 L545.28 242.54 L545.51 242.51 L545.74 242.48 L545.96 242.45 L546.19 242.42 L546.42 242.39 L546.64 242.36 L546.87 242.33 L547.09 242.3 L547.32 242.27 L547.55 242.23 L547.77 242.2 L548 242.17 L548.23 242.13 L548.45 242.1 L548.68 242.06 L548.91 242.03 L549.13 241.99 L549.36 241.96 L549.58 241.92 L549.81 241.88 L550.04 241.84 L550.26 241.8 L550.49 241.75 L550.72 241.7 L550.94 241.64 L551.17 241.59 L551.39 241.53 L551.62 241.47 L551.85 241.4 L552.07 241.33 L552.3 241.26 L552.53 241.19 L552.75 241.11 L552.98 241.04 L553.21 240.96 L553.43 240.88 L553.66 240.79 L553.88 240.71 L554.11 240.62 L554.34 240.53 L554.56 240.44 L554.79 240.35 L555.02 240.26 L555.24 240.17 L555.47 240.07 L555.69 239.97 L555.92 239.87 L556.15 239.76 L556.37 239.64 L556.6 239.52 L556.83 239.4 L557.05 239.27 L557.28 239.14 L557.51 239 L557.73 238.86 L557.96 238.71 L558.18 238.56 L558.41 238.41 L558.64 238.25 L558.86 238.09 L559.09 237.93 L559.32 237.76 L559.54 237.59 L559.77 237.42 L559.99 237.23 L560.22 237.04 L560.45 236.85 L560.67 236.64 L560.9 236.43 L561.13 236.21 L561.35 235.98 L561.58 235.74 L561.81 235.49 L562.03 235.23 L562.26 234.95 L562.48 234.66 L562.71 234.35 L562.94 234.01 L563.16 233.66 L563.39 233.28 L563.62 232.89 L563.84 232.48 L564.07 232.05 L564.29 231.62 L564.52 231.16 L564.75 230.7 L564.97 230.23 L565.2 229.74 L565.43 229.22 L565.65 228.67 L565.88 228.07 L566.11 227.41 L566.33 226.69 L566.56 225.86 L566.78 224.91 L567.01 223.86 L567.24 222.72 L567.46 221.52 L567.69 220.28 L567.92 219.02 L568.14 217.77 L568.37 216.53 L568.59 215.29 L568.82 214.04 L569.05 212.76 L569.27 211.43 L569.5 210.04 L569.73 208.58 L569.95 207.04 L570.18 205.38 L570.41 203.57 L570.63 201.59 L570.86 199.43 L571.08 197.07 L571.31 194.52 L571.54 191.81 L571.76 188.97 L571.99 186.02 L572.22 182.99 L572.44 179.9 L572.67 176.78 L572.89 173.66 L573.12 170.56 L573.35 167.5 L573.57 164.52 L573.8 161.63 L574.03 158.74 L574.25 155.85 L574.48 152.94 L574.71 150.04 L574.93 147.14 L575.16 144.24 L575.38 141.35 L575.61 138.47 L575.84 135.6 L576.06 132.75 L576.29 129.92 L576.52 127.11 L576.74 124.33 L576.97 121.58 L577.19 118.87 L577.42 116.24 L577.65 113.67 L577.87 111.15 L578.1 108.67 L578.33 106.2 L578.55 103.73 L578.78 101.23 L579.01 98.69 L579.23 96.09 L579.46 93.42 L579.68 90.65 L579.91 87.76 L580.14 84.6 L580.36 81.12 L580.59 77.46 L580.82 73.73 L581.04 70.06 L581.27 66.59 L581.49 63.43 L581.72 60.72 L581.95 58.49 L582.17 56.53 L582.4 54.74 L582.63 53.1 L582.85 51.54 L583.08 50.01 L583.31 48.47 L583.53 46.87 L583.76 45.17 L583.98 43.41 L584.21 41.65 L584.44 39.94 L584.66 38.34 L584.89 36.9 L585.12 35.69 L585.34 34.69 L585.57 33.77 L585.79 32.89 L586.02 32.07 L586.25 31.3 L586.47 30.59 L586.7 29.93 L586.93 29.32 L587.15 28.78 L587.38 28.29 L587.61 27.86 L587.83 27.49 L588.06 27.13 L588.28 26.79 L588.51 26.46 L588.74 26.15 L588.96 25.86 L589.19 25.58 L589.42 25.32 L589.64 25.08 L589.87 24.85 L590.09 24.65 L590.32 24.47 L590.55 24.31 L590.77 24.16 L591 24.05 L591.23 23.95 L591.45 23.85 L591.68 23.76 L591.91 23.67 L592.13 23.58 L592.36 23.5 L592.58 23.42 L592.81 23.34 L593.04 23.27 L593.26 23.21 L593.49 23.15 L593.72 23.09 L593.94 23.04 L594.17 23 L594.39 22.97 L594.62 22.94 L594.85 22.92 L595.07 22.9 L595.3 22.9" stroke="#00ff00" stroke-width="1.6" stroke-dasharray="2 1.3"/>
<path d="M595.3 22.9 H698.8" stroke="#00ff00" stroke-width="1.6" stroke-dasharray="4.4 1.0"/>
<path d="M505 244.3 L545 243.5 H803" stroke="#0000ff" stroke-width="1.6" stroke-dasharray="1.3 1.5"/>
<path d="M505 244.3 L545 243.5 H803" stroke="#ff00ff" stroke-width="1.5" stroke-opacity="0.5"/>
</g>
</svg>
</body></html>
